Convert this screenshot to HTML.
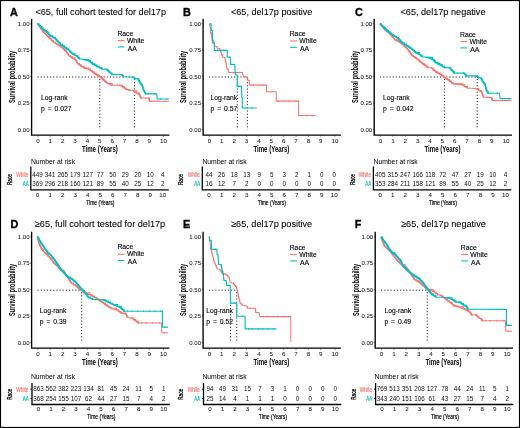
<!DOCTYPE html>
<html><head><meta charset="utf-8"><style>
html,body{margin:0;padding:0;background:#fff;}
svg{display:block;font-family:"Liberation Sans", sans-serif;will-change:transform;}
</style></head><body>
<svg width="520" height="428" viewBox="0 0 520 428">
<rect x="0" y="0" width="520" height="428" fill="#fff"/>
<g transform="translate(0.00,0.00)">
<text x="10.10" y="15.80" font-size="10.80" text-anchor="start" font-weight="bold" fill="#000" stroke="#000" stroke-width="0.35">A</text>
<text x="100.70" y="15.30" font-size="9.15" text-anchor="middle" font-weight="normal" fill="#000" stroke="#000" stroke-width="0.07">&lt;65, full cohort tested for del17p</text>
<text transform="translate(14.9,76.9) rotate(-90) scale(0.64,1)" font-size="8.8" font-weight="bold" text-anchor="middle">Survival probability</text>
<text x="29.50" y="131.75" font-size="6.00" text-anchor="end" font-weight="normal" fill="#1a1a1a" stroke="#1a1a1a" stroke-width="0.05">0.00</text>
<line x1="30.2" y1="129.60" x2="31.6" y2="129.60" stroke="#222" stroke-width="0.6"/>
<text x="29.50" y="105.30" font-size="6.00" text-anchor="end" font-weight="normal" fill="#1a1a1a" stroke="#1a1a1a" stroke-width="0.05">0.25</text>
<line x1="30.2" y1="103.15" x2="31.6" y2="103.15" stroke="#222" stroke-width="0.6"/>
<text x="29.50" y="78.85" font-size="6.00" text-anchor="end" font-weight="normal" fill="#1a1a1a" stroke="#1a1a1a" stroke-width="0.05">0.50</text>
<line x1="30.2" y1="76.70" x2="31.6" y2="76.70" stroke="#222" stroke-width="0.6"/>
<text x="29.50" y="52.40" font-size="6.00" text-anchor="end" font-weight="normal" fill="#1a1a1a" stroke="#1a1a1a" stroke-width="0.05">0.75</text>
<line x1="30.2" y1="50.25" x2="31.6" y2="50.25" stroke="#222" stroke-width="0.6"/>
<text x="29.50" y="25.95" font-size="6.00" text-anchor="end" font-weight="normal" fill="#1a1a1a" stroke="#1a1a1a" stroke-width="0.05">1.00</text>
<line x1="30.2" y1="23.80" x2="31.6" y2="23.80" stroke="#222" stroke-width="0.6"/>
<text x="37.90" y="142.60" font-size="6.20" text-anchor="middle" font-weight="normal" fill="#1a1a1a" stroke="#1a1a1a" stroke-width="0.05">0</text>
<line x1="37.90" y1="135.5" x2="37.90" y2="136.8" stroke="#222" stroke-width="0.6"/>
<text x="50.27" y="142.60" font-size="6.20" text-anchor="middle" font-weight="normal" fill="#1a1a1a" stroke="#1a1a1a" stroke-width="0.05">1</text>
<line x1="50.27" y1="135.5" x2="50.27" y2="136.8" stroke="#222" stroke-width="0.6"/>
<text x="62.64" y="142.60" font-size="6.20" text-anchor="middle" font-weight="normal" fill="#1a1a1a" stroke="#1a1a1a" stroke-width="0.05">2</text>
<line x1="62.64" y1="135.5" x2="62.64" y2="136.8" stroke="#222" stroke-width="0.6"/>
<text x="75.01" y="142.60" font-size="6.20" text-anchor="middle" font-weight="normal" fill="#1a1a1a" stroke="#1a1a1a" stroke-width="0.05">3</text>
<line x1="75.01" y1="135.5" x2="75.01" y2="136.8" stroke="#222" stroke-width="0.6"/>
<text x="87.38" y="142.60" font-size="6.20" text-anchor="middle" font-weight="normal" fill="#1a1a1a" stroke="#1a1a1a" stroke-width="0.05">4</text>
<line x1="87.38" y1="135.5" x2="87.38" y2="136.8" stroke="#222" stroke-width="0.6"/>
<text x="99.75" y="142.60" font-size="6.20" text-anchor="middle" font-weight="normal" fill="#1a1a1a" stroke="#1a1a1a" stroke-width="0.05">5</text>
<line x1="99.75" y1="135.5" x2="99.75" y2="136.8" stroke="#222" stroke-width="0.6"/>
<text x="112.12" y="142.60" font-size="6.20" text-anchor="middle" font-weight="normal" fill="#1a1a1a" stroke="#1a1a1a" stroke-width="0.05">6</text>
<line x1="112.12" y1="135.5" x2="112.12" y2="136.8" stroke="#222" stroke-width="0.6"/>
<text x="124.49" y="142.60" font-size="6.20" text-anchor="middle" font-weight="normal" fill="#1a1a1a" stroke="#1a1a1a" stroke-width="0.05">7</text>
<line x1="124.49" y1="135.5" x2="124.49" y2="136.8" stroke="#222" stroke-width="0.6"/>
<text x="136.86" y="142.60" font-size="6.20" text-anchor="middle" font-weight="normal" fill="#1a1a1a" stroke="#1a1a1a" stroke-width="0.05">8</text>
<line x1="136.86" y1="135.5" x2="136.86" y2="136.8" stroke="#222" stroke-width="0.6"/>
<text x="149.23" y="142.60" font-size="6.20" text-anchor="middle" font-weight="normal" fill="#1a1a1a" stroke="#1a1a1a" stroke-width="0.05">9</text>
<line x1="149.23" y1="135.5" x2="149.23" y2="136.8" stroke="#222" stroke-width="0.6"/>
<text x="163.50" y="142.60" font-size="6.20" text-anchor="middle" font-weight="normal" fill="#1a1a1a" stroke="#1a1a1a" stroke-width="0.05">10</text>
<line x1="163.50" y1="135.5" x2="163.50" y2="136.8" stroke="#222" stroke-width="0.6"/>
<text transform="translate(99.90,152.40) scale(0.690,1)" font-size="8.80" text-anchor="middle" font-weight="bold" fill="#000" >Time (Years)</text>
<line x1="37.50" y1="77.00" x2="134.40" y2="77.00" stroke="#111" stroke-width="0.95" stroke-dasharray="1.1,2.05"/>
<line x1="99.80" y1="79.00" x2="99.80" y2="129.60" stroke="#111" stroke-width="0.95" stroke-dasharray="1.1,2.05"/>
<line x1="134.40" y1="79.00" x2="134.40" y2="129.60" stroke="#111" stroke-width="0.95" stroke-dasharray="1.1,2.05"/>
<polyline points="37.70,24.00 38.63,24.00 38.63,25.35 39.57,25.35 39.57,26.70 40.50,26.70 40.50,28.05 41.43,28.05 41.43,29.40 42.37,29.40 42.37,30.75 43.30,30.75 43.30,32.10 44.47,32.10 44.47,33.27 45.65,33.27 45.65,34.45 46.83,34.45 46.83,35.62 48.00,35.62 48.00,36.80 49.00,36.80 49.00,37.80 50.00,37.80 50.00,38.80 51.75,38.80 51.75,40.40 53.50,40.40 53.50,42.00 55.27,42.00 55.27,43.17 57.03,43.17 57.03,44.33 58.80,44.33 58.80,45.50 60.85,45.50 60.85,46.95 62.90,46.95 62.90,48.40 64.07,48.40 64.07,49.57 65.23,49.57 65.23,50.73 66.40,50.73 66.40,51.90 67.17,51.90 67.17,53.07 67.93,53.07 67.93,54.23 68.70,54.23 68.70,55.40 70.45,55.40 70.45,56.60 72.20,56.60 72.20,57.80 75.00,57.80 75.00,59.50 75.83,59.50 75.83,60.80 76.67,60.80 76.67,62.10 77.50,62.10 77.50,63.40 79.35,63.40 79.35,64.80 81.20,64.80 81.20,66.20 84.00,66.20 84.00,68.00 88.70,68.00 88.70,69.00 90.55,69.00 90.55,70.40 92.40,70.40 92.40,71.80 94.30,71.80 94.30,73.20 96.20,73.20 96.20,74.60 98.05,74.60 98.05,75.60 99.90,75.60 99.90,76.60 101.17,76.60 101.17,77.77 102.43,77.77 102.43,78.93 103.70,78.93 103.70,80.10 104.97,80.10 104.97,81.20 106.23,81.20 106.23,82.30 107.50,82.30 107.50,83.40 112.10,83.40 112.10,85.20 119.60,85.20 122.40,85.20 122.40,86.60 124.30,86.60 124.30,88.00 126.20,88.00 126.20,89.40 129.90,89.40 129.90,90.40 133.60,90.80 136.40,90.80 136.40,92.70 139.30,92.70 139.30,94.60 139.83,94.60 139.83,95.73 140.37,95.73 140.37,96.87 140.90,96.87 140.90,98.00 148.80,98.00 149.13,98.00 149.13,99.10 149.47,99.10 149.47,100.20 149.80,100.20 149.80,101.30 168.90,101.30" fill="none" stroke="#F8766D" stroke-width="1.05" stroke-linejoin="miter"/>
<path d="M37.70,24.00L43.30,32.10M43.30,32.10L48.00,36.80M48.00,36.80L50.00,38.80M50.00,38.80L53.50,42.00M53.50,42.00L58.80,45.50M58.80,45.50L62.90,48.40M62.90,48.40L66.40,51.90M66.40,51.90L68.70,55.40M68.70,55.40L72.20,57.80M72.20,57.80L75.00,59.50M75.00,59.50L77.50,63.40M77.50,63.40L81.20,66.20M81.20,66.20L84.00,68.00M84.00,68.00L88.70,69.00M88.70,69.00L92.40,71.80M92.40,71.80L96.20,74.60M96.20,74.60L99.90,76.60M99.90,76.60L103.70,80.10M103.70,80.10L107.50,83.40M107.50,83.40L112.10,85.20M119.60,85.20L122.40,86.60M122.40,86.60L126.20,89.40M126.20,89.40L129.90,90.40M133.60,90.80L136.40,92.70M136.40,92.70L139.30,94.60M139.30,94.60L140.90,98.00M148.80,98.00L149.80,101.30" stroke="#F8766D" stroke-width="1.45" fill="none" stroke-linecap="round" stroke-linejoin="round"/>
<path d="M117.24,84.25v1.9M145.91,97.05v1.9M152.00,100.35v1.9M158.13,100.35v1.9M165.44,100.35v1.9" stroke="#F8766D" stroke-width="0.7" fill="none"/>
<polyline points="37.70,24.00 39.10,24.00 39.10,25.32 40.50,25.32 40.50,26.65 41.90,26.65 41.90,27.98 43.30,27.98 43.30,29.30 44.87,29.30 44.87,30.57 46.43,30.57 46.43,31.83 48.00,31.83 48.00,33.10 49.00,33.10 49.00,34.50 50.00,34.50 50.00,35.90 52.65,35.90 52.65,37.20 55.30,37.20 55.30,38.50 56.15,38.50 56.15,39.65 57.00,39.65 57.00,40.80 58.17,40.80 58.17,41.97 59.33,41.97 59.33,43.13 60.50,43.13 60.50,44.30 62.55,44.30 62.55,45.80 64.60,45.80 64.60,47.30 66.65,47.30 66.65,48.75 68.70,48.75 68.70,50.20 69.87,50.20 69.87,51.37 71.03,51.37 71.03,52.53 72.20,52.53 72.20,53.70 75.00,53.70 75.00,55.40 76.50,55.90 77.90,55.90 77.90,57.30 79.30,57.30 79.30,58.70 84.00,59.60 88.70,59.60 88.70,60.60 90.55,60.60 90.55,62.20 92.40,62.20 92.40,63.80 94.75,63.80 94.75,65.00 97.10,65.00 97.10,66.20 99.50,66.20 99.50,67.55 101.90,67.55 101.90,68.90 106.50,69.30 107.90,69.30 107.90,70.70 109.30,70.70 109.30,72.10 110.70,72.10 110.70,73.30 112.10,73.30 112.10,74.50 121.50,74.50 122.45,74.50 122.45,75.65 123.40,75.65 123.40,76.80 133.60,77.20 134.80,77.20 134.80,78.90 138.10,78.90 138.80,78.90 138.80,80.50 139.50,80.50 139.50,82.10 140.43,82.10 140.43,83.37 141.37,83.37 141.37,84.63 142.30,84.63 142.30,85.90 142.65,85.90 142.65,87.08 143.00,87.08 143.00,88.25 143.35,88.25 143.35,89.42 143.70,89.42 143.70,90.60 144.65,90.60 144.65,92.20 145.60,92.20 145.60,93.80 156.80,93.80 157.20,99.00 168.90,99.00" fill="none" stroke="#00BFC4" stroke-width="1.15" stroke-linejoin="miter"/>
<path d="M37.70,24.00L43.30,29.30M43.30,29.30L48.00,33.10M48.00,33.10L50.00,35.90M50.00,35.90L55.30,38.50M55.30,38.50L57.00,40.80M57.00,40.80L60.50,44.30M60.50,44.30L64.60,47.30M64.60,47.30L68.70,50.20M68.70,50.20L72.20,53.70M72.20,53.70L75.00,55.40M76.50,55.90L79.30,58.70M84.00,59.60L88.70,60.60M88.70,60.60L92.40,63.80M92.40,63.80L97.10,66.20M97.10,66.20L101.90,68.90M106.50,69.30L109.30,72.10M109.30,72.10L112.10,74.50M121.50,74.50L123.40,76.80M133.60,77.20L134.80,78.90M138.10,78.90L139.50,82.10M139.50,82.10L142.30,85.90M142.30,85.90L143.70,90.60M143.70,90.60L145.60,93.80" stroke="#00BFC4" stroke-width="1.55" fill="none" stroke-linecap="round" stroke-linejoin="round"/>
<path d="M116.79,73.55v1.9M148.61,92.85v1.9M155.04,92.85v1.9M160.35,98.05v1.9M166.79,98.05v1.9" stroke="#00BFC4" stroke-width="0.7" fill="none"/>
<path d="M31.6,18.8 V135.1 H169.4" fill="none" stroke="#000" stroke-width="1.35"/>
<g transform="translate(0.00,0.00)">
<text x="117.40" y="35.60" font-size="6.80" text-anchor="start" font-weight="normal" fill="#000" stroke="#000" stroke-width="0.12">Race</text>
<line x1="117.9" y1="40.6" x2="124.6" y2="40.6" stroke="#F8766D" stroke-width="1.1"/>
<line x1="117.9" y1="46.9" x2="124.6" y2="46.9" stroke="#00BFC4" stroke-width="1.1"/>
<text x="126.90" y="42.70" font-size="6.85" text-anchor="start" font-weight="normal" fill="#000" stroke="#000" stroke-width="0.12">White</text>
<text x="127.70" y="50.90" font-size="6.85" text-anchor="start" font-weight="normal" fill="#000" stroke="#000" stroke-width="0.12">AA</text>
</g>
<text x="41.00" y="100.00" font-size="6.75" text-anchor="start" font-weight="normal" fill="#000" stroke="#000" stroke-width="0.1">Log-rank</text>
<text x="41.00" y="110.60" font-size="6.80" text-anchor="start" font-weight="normal" fill="#000" stroke="#000" stroke-width="0.1" word-spacing="1.0">p = 0.027</text>
<text x="30.90" y="164.30" font-size="6.80" text-anchor="start" font-weight="normal" fill="#000" >Number at risk</text>
<path d="M30.80,166.60 V189.90 H168.80" fill="none" stroke="#000" stroke-width="1.3"/>
<text transform="translate(28.50,177.40) scale(0.690,1)" font-size="7.00" text-anchor="end" font-weight="normal" fill="#F8766D" stroke="#F8766D" stroke-width="0.2">White</text>
<text transform="translate(28.70,185.90) scale(0.640,1)" font-size="7.00" text-anchor="end" font-weight="normal" fill="#00BFC4" stroke="#00BFC4" stroke-width="0.2">AA</text>
<text transform="translate(11.9,179.60) rotate(-90) scale(0.62,1)" font-size="7.5" stroke="#000" stroke-width="0.3" text-anchor="middle">Race</text>
<text x="37.60" y="176.85" font-size="6.30" text-anchor="middle" font-weight="normal" fill="#111" >449</text>
<text x="37.60" y="185.95" font-size="6.30" text-anchor="middle" font-weight="normal" fill="#111" >369</text>
<text x="37.60" y="197.00" font-size="6.20" text-anchor="middle" font-weight="normal" fill="#1a1a1a" stroke="#1a1a1a" stroke-width="0.05">0</text>
<text x="50.12" y="176.85" font-size="6.30" text-anchor="middle" font-weight="normal" fill="#111" >341</text>
<text x="50.12" y="185.95" font-size="6.30" text-anchor="middle" font-weight="normal" fill="#111" >296</text>
<text x="50.12" y="197.00" font-size="6.20" text-anchor="middle" font-weight="normal" fill="#1a1a1a" stroke="#1a1a1a" stroke-width="0.05">1</text>
<text x="62.64" y="176.85" font-size="6.30" text-anchor="middle" font-weight="normal" fill="#111" >265</text>
<text x="62.64" y="185.95" font-size="6.30" text-anchor="middle" font-weight="normal" fill="#111" >218</text>
<text x="62.64" y="197.00" font-size="6.20" text-anchor="middle" font-weight="normal" fill="#1a1a1a" stroke="#1a1a1a" stroke-width="0.05">2</text>
<text x="75.16" y="176.85" font-size="6.30" text-anchor="middle" font-weight="normal" fill="#111" >179</text>
<text x="75.16" y="185.95" font-size="6.30" text-anchor="middle" font-weight="normal" fill="#111" >160</text>
<text x="75.16" y="197.00" font-size="6.20" text-anchor="middle" font-weight="normal" fill="#1a1a1a" stroke="#1a1a1a" stroke-width="0.05">3</text>
<text x="87.68" y="176.85" font-size="6.30" text-anchor="middle" font-weight="normal" fill="#111" >127</text>
<text x="87.68" y="185.95" font-size="6.30" text-anchor="middle" font-weight="normal" fill="#111" >121</text>
<text x="87.68" y="197.00" font-size="6.20" text-anchor="middle" font-weight="normal" fill="#1a1a1a" stroke="#1a1a1a" stroke-width="0.05">4</text>
<text x="100.20" y="176.85" font-size="6.30" text-anchor="middle" font-weight="normal" fill="#111" >77</text>
<text x="100.20" y="185.95" font-size="6.30" text-anchor="middle" font-weight="normal" fill="#111" >89</text>
<text x="100.20" y="197.00" font-size="6.20" text-anchor="middle" font-weight="normal" fill="#1a1a1a" stroke="#1a1a1a" stroke-width="0.05">5</text>
<text x="112.72" y="176.85" font-size="6.30" text-anchor="middle" font-weight="normal" fill="#111" >50</text>
<text x="112.72" y="185.95" font-size="6.30" text-anchor="middle" font-weight="normal" fill="#111" >55</text>
<text x="112.72" y="197.00" font-size="6.20" text-anchor="middle" font-weight="normal" fill="#1a1a1a" stroke="#1a1a1a" stroke-width="0.05">6</text>
<text x="125.24" y="176.85" font-size="6.30" text-anchor="middle" font-weight="normal" fill="#111" >29</text>
<text x="125.24" y="185.95" font-size="6.30" text-anchor="middle" font-weight="normal" fill="#111" >40</text>
<text x="125.24" y="197.00" font-size="6.20" text-anchor="middle" font-weight="normal" fill="#1a1a1a" stroke="#1a1a1a" stroke-width="0.05">7</text>
<text x="137.76" y="176.85" font-size="6.30" text-anchor="middle" font-weight="normal" fill="#111" >20</text>
<text x="137.76" y="185.95" font-size="6.30" text-anchor="middle" font-weight="normal" fill="#111" >25</text>
<text x="137.76" y="197.00" font-size="6.20" text-anchor="middle" font-weight="normal" fill="#1a1a1a" stroke="#1a1a1a" stroke-width="0.05">8</text>
<text x="150.28" y="176.85" font-size="6.30" text-anchor="middle" font-weight="normal" fill="#111" >10</text>
<text x="150.28" y="185.95" font-size="6.30" text-anchor="middle" font-weight="normal" fill="#111" >12</text>
<text x="150.28" y="197.00" font-size="6.20" text-anchor="middle" font-weight="normal" fill="#1a1a1a" stroke="#1a1a1a" stroke-width="0.05">9</text>
<text x="162.80" y="176.85" font-size="6.30" text-anchor="middle" font-weight="normal" fill="#111" >4</text>
<text x="162.80" y="185.95" font-size="6.30" text-anchor="middle" font-weight="normal" fill="#111" >2</text>
<text x="162.80" y="197.00" font-size="6.20" text-anchor="middle" font-weight="normal" fill="#1a1a1a" stroke="#1a1a1a" stroke-width="0.05">10</text>
<text transform="translate(100.30,204.60) scale(0.680,1)" font-size="7.30" text-anchor="middle" font-weight="normal" fill="#000" stroke="#000" stroke-width="0.2">Time (Years)</text>
</g>
<g transform="translate(171.50,0.00)">
<text x="11.50" y="15.80" font-size="10.80" text-anchor="start" font-weight="bold" fill="#000" stroke="#000" stroke-width="0.35">B</text>
<text x="100.15" y="15.30" font-size="9.15" text-anchor="middle" font-weight="normal" fill="#000" stroke="#000" stroke-width="0.07">&lt;65, del17p positive</text>
<text transform="translate(14.9,76.9) rotate(-90) scale(0.64,1)" font-size="8.8" font-weight="bold" text-anchor="middle">Survival probability</text>
<text x="29.50" y="131.75" font-size="6.00" text-anchor="end" font-weight="normal" fill="#1a1a1a" stroke="#1a1a1a" stroke-width="0.05">0.00</text>
<line x1="30.2" y1="129.60" x2="31.6" y2="129.60" stroke="#222" stroke-width="0.6"/>
<text x="29.50" y="105.30" font-size="6.00" text-anchor="end" font-weight="normal" fill="#1a1a1a" stroke="#1a1a1a" stroke-width="0.05">0.25</text>
<line x1="30.2" y1="103.15" x2="31.6" y2="103.15" stroke="#222" stroke-width="0.6"/>
<text x="29.50" y="78.85" font-size="6.00" text-anchor="end" font-weight="normal" fill="#1a1a1a" stroke="#1a1a1a" stroke-width="0.05">0.50</text>
<line x1="30.2" y1="76.70" x2="31.6" y2="76.70" stroke="#222" stroke-width="0.6"/>
<text x="29.50" y="52.40" font-size="6.00" text-anchor="end" font-weight="normal" fill="#1a1a1a" stroke="#1a1a1a" stroke-width="0.05">0.75</text>
<line x1="30.2" y1="50.25" x2="31.6" y2="50.25" stroke="#222" stroke-width="0.6"/>
<text x="29.50" y="25.95" font-size="6.00" text-anchor="end" font-weight="normal" fill="#1a1a1a" stroke="#1a1a1a" stroke-width="0.05">1.00</text>
<line x1="30.2" y1="23.80" x2="31.6" y2="23.80" stroke="#222" stroke-width="0.6"/>
<text x="37.90" y="142.60" font-size="6.20" text-anchor="middle" font-weight="normal" fill="#1a1a1a" stroke="#1a1a1a" stroke-width="0.05">0</text>
<line x1="37.90" y1="135.5" x2="37.90" y2="136.8" stroke="#222" stroke-width="0.6"/>
<text x="50.27" y="142.60" font-size="6.20" text-anchor="middle" font-weight="normal" fill="#1a1a1a" stroke="#1a1a1a" stroke-width="0.05">1</text>
<line x1="50.27" y1="135.5" x2="50.27" y2="136.8" stroke="#222" stroke-width="0.6"/>
<text x="62.64" y="142.60" font-size="6.20" text-anchor="middle" font-weight="normal" fill="#1a1a1a" stroke="#1a1a1a" stroke-width="0.05">2</text>
<line x1="62.64" y1="135.5" x2="62.64" y2="136.8" stroke="#222" stroke-width="0.6"/>
<text x="75.01" y="142.60" font-size="6.20" text-anchor="middle" font-weight="normal" fill="#1a1a1a" stroke="#1a1a1a" stroke-width="0.05">3</text>
<line x1="75.01" y1="135.5" x2="75.01" y2="136.8" stroke="#222" stroke-width="0.6"/>
<text x="87.38" y="142.60" font-size="6.20" text-anchor="middle" font-weight="normal" fill="#1a1a1a" stroke="#1a1a1a" stroke-width="0.05">4</text>
<line x1="87.38" y1="135.5" x2="87.38" y2="136.8" stroke="#222" stroke-width="0.6"/>
<text x="99.75" y="142.60" font-size="6.20" text-anchor="middle" font-weight="normal" fill="#1a1a1a" stroke="#1a1a1a" stroke-width="0.05">5</text>
<line x1="99.75" y1="135.5" x2="99.75" y2="136.8" stroke="#222" stroke-width="0.6"/>
<text x="112.12" y="142.60" font-size="6.20" text-anchor="middle" font-weight="normal" fill="#1a1a1a" stroke="#1a1a1a" stroke-width="0.05">6</text>
<line x1="112.12" y1="135.5" x2="112.12" y2="136.8" stroke="#222" stroke-width="0.6"/>
<text x="124.49" y="142.60" font-size="6.20" text-anchor="middle" font-weight="normal" fill="#1a1a1a" stroke="#1a1a1a" stroke-width="0.05">7</text>
<line x1="124.49" y1="135.5" x2="124.49" y2="136.8" stroke="#222" stroke-width="0.6"/>
<text x="136.86" y="142.60" font-size="6.20" text-anchor="middle" font-weight="normal" fill="#1a1a1a" stroke="#1a1a1a" stroke-width="0.05">8</text>
<line x1="136.86" y1="135.5" x2="136.86" y2="136.8" stroke="#222" stroke-width="0.6"/>
<text x="149.23" y="142.60" font-size="6.20" text-anchor="middle" font-weight="normal" fill="#1a1a1a" stroke="#1a1a1a" stroke-width="0.05">9</text>
<line x1="149.23" y1="135.5" x2="149.23" y2="136.8" stroke="#222" stroke-width="0.6"/>
<text x="163.50" y="142.60" font-size="6.20" text-anchor="middle" font-weight="normal" fill="#1a1a1a" stroke="#1a1a1a" stroke-width="0.05">10</text>
<line x1="163.50" y1="135.5" x2="163.50" y2="136.8" stroke="#222" stroke-width="0.6"/>
<text transform="translate(99.90,152.40) scale(0.690,1)" font-size="8.80" text-anchor="middle" font-weight="bold" fill="#000" >Time (Years)</text>
<line x1="37.50" y1="77.00" x2="75.90" y2="77.00" stroke="#111" stroke-width="0.95" stroke-dasharray="1.1,2.05"/>
<line x1="65.80" y1="79.00" x2="65.80" y2="129.60" stroke="#111" stroke-width="0.95" stroke-dasharray="1.1,2.05"/>
<line x1="75.90" y1="79.00" x2="75.90" y2="129.60" stroke="#111" stroke-width="0.95" stroke-dasharray="1.1,2.05"/>
<polyline points="37.70,23.90 38.20,25.10 38.60,26.50 39.10,33.10 40.00,33.10 40.00,35.00 40.50,40.10 41.90,40.10 41.90,41.50 42.25,41.50 42.25,42.67 42.60,42.67 42.60,43.85 42.95,43.85 42.95,45.03 43.30,45.03 43.30,46.20 44.70,46.60 45.60,46.60 45.60,48.00 47.50,48.50 48.20,48.50 48.20,49.90 48.90,49.90 48.90,51.30 49.33,51.30 49.33,52.57 49.77,52.57 49.77,53.83 50.20,53.83 50.20,55.10 51.20,55.10 51.20,57.00 53.00,57.50 53.33,57.50 53.33,58.73 53.67,58.73 53.67,59.97 54.00,59.97 54.00,61.20 54.30,61.20 54.30,62.60 54.60,62.60 54.60,64.00 54.90,64.00 54.90,65.40 55.40,69.20 56.80,69.20 56.80,71.00 57.20,72.40 70.80,72.40 71.70,76.20 75.50,77.10 75.80,77.10 75.80,78.20 76.10,78.20 76.10,79.30 76.40,79.30 76.40,80.40 77.80,80.40 77.80,82.30 78.30,85.10 95.00,85.10 95.00,91.80 104.70,91.80 104.70,101.10 127.10,101.10 127.10,115.50 144.00,115.50" fill="none" stroke="#F8766D" stroke-width="1.05" stroke-linejoin="miter"/>
<path d="M61.43,71.45v1.9M68.18,71.45v1.9M81.91,84.15v1.9M87.63,84.15v1.9M91.17,84.15v1.9M100.39,90.85v1.9M106.74,100.15v1.9M112.36,100.15v1.9M117.83,100.15v1.9M124.60,100.15v1.9M130.77,114.55v1.9M135.05,114.55v1.9M141.17,114.55v1.9" stroke="#F8766D" stroke-width="0.7" fill="none"/>
<polyline points="37.70,23.90 39.60,23.90 39.60,30.50 41.00,30.50 41.00,43.00 42.80,43.00 42.80,44.50 42.80,50.40 55.80,50.40 55.80,57.10 58.80,57.10 59.10,64.50 63.30,64.50 63.80,75.00 65.70,75.00 65.70,86.30 70.00,86.30 70.30,97.50 70.80,97.80 70.80,108.00 85.30,108.00" fill="none" stroke="#00BFC4" stroke-width="1.15" stroke-linejoin="miter"/>
<path d="M46.24,49.45v1.9M52.40,49.45v1.9M60.43,63.55v1.9M67.15,85.35v1.9M73.69,107.05v1.9M80.55,107.05v1.9" stroke="#00BFC4" stroke-width="0.7" fill="none"/>
<path d="M31.6,18.8 V135.1 H169.4" fill="none" stroke="#000" stroke-width="1.35"/>
<g transform="translate(0.80,0.40)">
<text x="117.40" y="35.60" font-size="6.80" text-anchor="start" font-weight="normal" fill="#000" stroke="#000" stroke-width="0.12">Race</text>
<line x1="117.9" y1="40.6" x2="124.6" y2="40.6" stroke="#F8766D" stroke-width="1.1"/>
<line x1="117.9" y1="46.9" x2="124.6" y2="46.9" stroke="#00BFC4" stroke-width="1.1"/>
<text x="126.90" y="42.70" font-size="6.85" text-anchor="start" font-weight="normal" fill="#000" stroke="#000" stroke-width="0.12">White</text>
<text x="127.70" y="50.90" font-size="6.85" text-anchor="start" font-weight="normal" fill="#000" stroke="#000" stroke-width="0.12">AA</text>
</g>
<text x="39.10" y="100.00" font-size="6.75" text-anchor="start" font-weight="normal" fill="#000" stroke="#000" stroke-width="0.1">Log-rank</text>
<text x="39.10" y="110.60" font-size="6.80" text-anchor="start" font-weight="normal" fill="#000" stroke="#000" stroke-width="0.1" word-spacing="1.0">p = 0.57</text>
<text x="30.90" y="164.30" font-size="6.80" text-anchor="start" font-weight="normal" fill="#000" >Number at risk</text>
<path d="M30.80,166.60 V189.90 H168.80" fill="none" stroke="#000" stroke-width="1.3"/>
<text transform="translate(28.50,177.40) scale(0.690,1)" font-size="7.00" text-anchor="end" font-weight="normal" fill="#F8766D" stroke="#F8766D" stroke-width="0.2">White</text>
<text transform="translate(28.70,185.90) scale(0.640,1)" font-size="7.00" text-anchor="end" font-weight="normal" fill="#00BFC4" stroke="#00BFC4" stroke-width="0.2">AA</text>
<text transform="translate(11.9,179.60) rotate(-90) scale(0.62,1)" font-size="7.5" stroke="#000" stroke-width="0.3" text-anchor="middle">Race</text>
<text x="37.60" y="176.85" font-size="6.30" text-anchor="middle" font-weight="normal" fill="#111" >44</text>
<text x="37.60" y="185.95" font-size="6.30" text-anchor="middle" font-weight="normal" fill="#111" >16</text>
<text x="37.60" y="197.00" font-size="6.20" text-anchor="middle" font-weight="normal" fill="#1a1a1a" stroke="#1a1a1a" stroke-width="0.05">0</text>
<text x="50.12" y="176.85" font-size="6.30" text-anchor="middle" font-weight="normal" fill="#111" >26</text>
<text x="50.12" y="185.95" font-size="6.30" text-anchor="middle" font-weight="normal" fill="#111" >12</text>
<text x="50.12" y="197.00" font-size="6.20" text-anchor="middle" font-weight="normal" fill="#1a1a1a" stroke="#1a1a1a" stroke-width="0.05">1</text>
<text x="62.64" y="176.85" font-size="6.30" text-anchor="middle" font-weight="normal" fill="#111" >18</text>
<text x="62.64" y="185.95" font-size="6.30" text-anchor="middle" font-weight="normal" fill="#111" >7</text>
<text x="62.64" y="197.00" font-size="6.20" text-anchor="middle" font-weight="normal" fill="#1a1a1a" stroke="#1a1a1a" stroke-width="0.05">2</text>
<text x="75.16" y="176.85" font-size="6.30" text-anchor="middle" font-weight="normal" fill="#111" >13</text>
<text x="75.16" y="185.95" font-size="6.30" text-anchor="middle" font-weight="normal" fill="#111" >2</text>
<text x="75.16" y="197.00" font-size="6.20" text-anchor="middle" font-weight="normal" fill="#1a1a1a" stroke="#1a1a1a" stroke-width="0.05">3</text>
<text x="87.68" y="176.85" font-size="6.30" text-anchor="middle" font-weight="normal" fill="#111" >9</text>
<text x="87.68" y="185.95" font-size="6.30" text-anchor="middle" font-weight="normal" fill="#111" >0</text>
<text x="87.68" y="197.00" font-size="6.20" text-anchor="middle" font-weight="normal" fill="#1a1a1a" stroke="#1a1a1a" stroke-width="0.05">4</text>
<text x="100.20" y="176.85" font-size="6.30" text-anchor="middle" font-weight="normal" fill="#111" >5</text>
<text x="100.20" y="185.95" font-size="6.30" text-anchor="middle" font-weight="normal" fill="#111" >0</text>
<text x="100.20" y="197.00" font-size="6.20" text-anchor="middle" font-weight="normal" fill="#1a1a1a" stroke="#1a1a1a" stroke-width="0.05">5</text>
<text x="112.72" y="176.85" font-size="6.30" text-anchor="middle" font-weight="normal" fill="#111" >3</text>
<text x="112.72" y="185.95" font-size="6.30" text-anchor="middle" font-weight="normal" fill="#111" >0</text>
<text x="112.72" y="197.00" font-size="6.20" text-anchor="middle" font-weight="normal" fill="#1a1a1a" stroke="#1a1a1a" stroke-width="0.05">6</text>
<text x="125.24" y="176.85" font-size="6.30" text-anchor="middle" font-weight="normal" fill="#111" >2</text>
<text x="125.24" y="185.95" font-size="6.30" text-anchor="middle" font-weight="normal" fill="#111" >0</text>
<text x="125.24" y="197.00" font-size="6.20" text-anchor="middle" font-weight="normal" fill="#1a1a1a" stroke="#1a1a1a" stroke-width="0.05">7</text>
<text x="137.76" y="176.85" font-size="6.30" text-anchor="middle" font-weight="normal" fill="#111" >1</text>
<text x="137.76" y="185.95" font-size="6.30" text-anchor="middle" font-weight="normal" fill="#111" >0</text>
<text x="137.76" y="197.00" font-size="6.20" text-anchor="middle" font-weight="normal" fill="#1a1a1a" stroke="#1a1a1a" stroke-width="0.05">8</text>
<text x="150.28" y="176.85" font-size="6.30" text-anchor="middle" font-weight="normal" fill="#111" >0</text>
<text x="150.28" y="185.95" font-size="6.30" text-anchor="middle" font-weight="normal" fill="#111" >0</text>
<text x="150.28" y="197.00" font-size="6.20" text-anchor="middle" font-weight="normal" fill="#1a1a1a" stroke="#1a1a1a" stroke-width="0.05">9</text>
<text x="162.80" y="176.85" font-size="6.30" text-anchor="middle" font-weight="normal" fill="#111" >0</text>
<text x="162.80" y="185.95" font-size="6.30" text-anchor="middle" font-weight="normal" fill="#111" >0</text>
<text x="162.80" y="197.00" font-size="6.20" text-anchor="middle" font-weight="normal" fill="#1a1a1a" stroke="#1a1a1a" stroke-width="0.05">10</text>
<text transform="translate(100.30,204.60) scale(0.680,1)" font-size="7.30" text-anchor="middle" font-weight="normal" fill="#000" stroke="#000" stroke-width="0.2">Time (Years)</text>
</g>
<g transform="translate(342.60,0.00)">
<text x="12.50" y="15.80" font-size="10.80" text-anchor="start" font-weight="bold" fill="#000" stroke="#000" stroke-width="0.35">C</text>
<text x="100.40" y="15.30" font-size="9.15" text-anchor="middle" font-weight="normal" fill="#000" stroke="#000" stroke-width="0.07">&lt;65, del17p negative</text>
<text transform="translate(14.9,76.9) rotate(-90) scale(0.64,1)" font-size="8.8" font-weight="bold" text-anchor="middle">Survival probability</text>
<text x="29.50" y="131.75" font-size="6.00" text-anchor="end" font-weight="normal" fill="#1a1a1a" stroke="#1a1a1a" stroke-width="0.05">0.00</text>
<line x1="30.2" y1="129.60" x2="31.6" y2="129.60" stroke="#222" stroke-width="0.6"/>
<text x="29.50" y="105.30" font-size="6.00" text-anchor="end" font-weight="normal" fill="#1a1a1a" stroke="#1a1a1a" stroke-width="0.05">0.25</text>
<line x1="30.2" y1="103.15" x2="31.6" y2="103.15" stroke="#222" stroke-width="0.6"/>
<text x="29.50" y="78.85" font-size="6.00" text-anchor="end" font-weight="normal" fill="#1a1a1a" stroke="#1a1a1a" stroke-width="0.05">0.50</text>
<line x1="30.2" y1="76.70" x2="31.6" y2="76.70" stroke="#222" stroke-width="0.6"/>
<text x="29.50" y="52.40" font-size="6.00" text-anchor="end" font-weight="normal" fill="#1a1a1a" stroke="#1a1a1a" stroke-width="0.05">0.75</text>
<line x1="30.2" y1="50.25" x2="31.6" y2="50.25" stroke="#222" stroke-width="0.6"/>
<text x="29.50" y="25.95" font-size="6.00" text-anchor="end" font-weight="normal" fill="#1a1a1a" stroke="#1a1a1a" stroke-width="0.05">1.00</text>
<line x1="30.2" y1="23.80" x2="31.6" y2="23.80" stroke="#222" stroke-width="0.6"/>
<text x="37.90" y="142.60" font-size="6.20" text-anchor="middle" font-weight="normal" fill="#1a1a1a" stroke="#1a1a1a" stroke-width="0.05">0</text>
<line x1="37.90" y1="135.5" x2="37.90" y2="136.8" stroke="#222" stroke-width="0.6"/>
<text x="50.27" y="142.60" font-size="6.20" text-anchor="middle" font-weight="normal" fill="#1a1a1a" stroke="#1a1a1a" stroke-width="0.05">1</text>
<line x1="50.27" y1="135.5" x2="50.27" y2="136.8" stroke="#222" stroke-width="0.6"/>
<text x="62.64" y="142.60" font-size="6.20" text-anchor="middle" font-weight="normal" fill="#1a1a1a" stroke="#1a1a1a" stroke-width="0.05">2</text>
<line x1="62.64" y1="135.5" x2="62.64" y2="136.8" stroke="#222" stroke-width="0.6"/>
<text x="75.01" y="142.60" font-size="6.20" text-anchor="middle" font-weight="normal" fill="#1a1a1a" stroke="#1a1a1a" stroke-width="0.05">3</text>
<line x1="75.01" y1="135.5" x2="75.01" y2="136.8" stroke="#222" stroke-width="0.6"/>
<text x="87.38" y="142.60" font-size="6.20" text-anchor="middle" font-weight="normal" fill="#1a1a1a" stroke="#1a1a1a" stroke-width="0.05">4</text>
<line x1="87.38" y1="135.5" x2="87.38" y2="136.8" stroke="#222" stroke-width="0.6"/>
<text x="99.75" y="142.60" font-size="6.20" text-anchor="middle" font-weight="normal" fill="#1a1a1a" stroke="#1a1a1a" stroke-width="0.05">5</text>
<line x1="99.75" y1="135.5" x2="99.75" y2="136.8" stroke="#222" stroke-width="0.6"/>
<text x="112.12" y="142.60" font-size="6.20" text-anchor="middle" font-weight="normal" fill="#1a1a1a" stroke="#1a1a1a" stroke-width="0.05">6</text>
<line x1="112.12" y1="135.5" x2="112.12" y2="136.8" stroke="#222" stroke-width="0.6"/>
<text x="124.49" y="142.60" font-size="6.20" text-anchor="middle" font-weight="normal" fill="#1a1a1a" stroke="#1a1a1a" stroke-width="0.05">7</text>
<line x1="124.49" y1="135.5" x2="124.49" y2="136.8" stroke="#222" stroke-width="0.6"/>
<text x="136.86" y="142.60" font-size="6.20" text-anchor="middle" font-weight="normal" fill="#1a1a1a" stroke="#1a1a1a" stroke-width="0.05">8</text>
<line x1="136.86" y1="135.5" x2="136.86" y2="136.8" stroke="#222" stroke-width="0.6"/>
<text x="149.23" y="142.60" font-size="6.20" text-anchor="middle" font-weight="normal" fill="#1a1a1a" stroke="#1a1a1a" stroke-width="0.05">9</text>
<line x1="149.23" y1="135.5" x2="149.23" y2="136.8" stroke="#222" stroke-width="0.6"/>
<text x="163.50" y="142.60" font-size="6.20" text-anchor="middle" font-weight="normal" fill="#1a1a1a" stroke="#1a1a1a" stroke-width="0.05">10</text>
<line x1="163.50" y1="135.5" x2="163.50" y2="136.8" stroke="#222" stroke-width="0.6"/>
<text transform="translate(99.90,152.40) scale(0.690,1)" font-size="8.80" text-anchor="middle" font-weight="bold" fill="#000" >Time (Years)</text>
<line x1="37.50" y1="77.00" x2="134.60" y2="77.00" stroke="#111" stroke-width="0.95" stroke-dasharray="1.1,2.05"/>
<line x1="101.80" y1="79.00" x2="101.80" y2="129.60" stroke="#111" stroke-width="0.95" stroke-dasharray="1.1,2.05"/>
<line x1="134.60" y1="79.00" x2="134.60" y2="129.60" stroke="#111" stroke-width="0.95" stroke-dasharray="1.1,2.05"/>
<polyline points="37.60,24.00 38.62,24.00 38.62,25.26 39.64,25.26 39.64,26.52 40.66,26.52 40.66,27.78 41.68,27.78 41.68,29.04 42.70,29.04 42.70,30.30 44.27,30.30 44.27,31.53 45.83,31.53 45.83,32.77 47.40,32.77 47.40,34.00 48.57,34.00 48.57,35.40 49.75,35.40 49.75,36.80 50.92,36.80 50.92,38.20 52.10,38.20 52.10,39.60 54.45,39.60 54.45,40.80 56.80,40.80 56.80,42.00 58.33,42.00 58.33,43.23 59.87,43.23 59.87,44.47 61.40,44.47 61.40,45.70 62.67,45.70 62.67,46.93 63.93,46.93 63.93,48.17 65.20,48.17 65.20,49.40 66.04,49.40 66.04,50.60 66.88,50.60 66.88,51.80 67.72,51.80 67.72,53.00 68.56,53.00 68.56,54.20 69.40,54.20 69.40,55.40 70.97,55.40 70.97,56.50 72.53,56.50 72.53,57.60 74.10,57.60 74.10,58.70 75.33,58.70 75.33,59.80 76.57,59.80 76.57,60.90 77.80,60.90 77.80,62.00 79.65,62.00 79.65,63.40 81.50,63.40 81.50,64.80 83.40,64.80 83.40,66.20 85.30,66.20 85.30,67.60 89.00,68.00 90.27,68.00 90.27,69.27 91.53,69.27 91.53,70.53 92.80,70.53 92.80,71.80 95.10,71.80 95.10,72.95 97.40,72.95 97.40,74.10 99.40,74.10 99.40,75.70 101.40,75.70 101.40,77.30 103.25,77.30 103.25,78.45 105.10,78.45 105.10,79.60 106.97,79.60 106.97,81.00 108.83,81.00 108.83,82.40 110.70,82.40 110.70,83.80 120.10,83.80 120.10,84.80 122.45,84.80 122.45,86.40 124.80,86.40 124.80,88.00 133.20,88.50 136.00,88.50 136.00,90.20 139.00,90.20 139.00,92.00 139.47,92.00 139.47,93.28 139.95,93.28 139.95,94.55 140.42,94.55 140.42,95.82 140.90,95.82 140.90,97.10 148.80,97.60 149.30,97.60 149.30,99.00 149.80,99.00 149.80,100.40 168.90,100.40" fill="none" stroke="#F8766D" stroke-width="1.05" stroke-linejoin="miter"/>
<path d="M37.60,24.00L42.70,30.30M42.70,30.30L47.40,34.00M47.40,34.00L52.10,39.60M52.10,39.60L56.80,42.00M56.80,42.00L61.40,45.70M61.40,45.70L65.20,49.40M65.20,49.40L69.40,55.40M69.40,55.40L74.10,58.70M74.10,58.70L77.80,62.00M77.80,62.00L81.50,64.80M81.50,64.80L85.30,67.60M89.00,68.00L92.80,71.80M92.80,71.80L97.40,74.10M97.40,74.10L101.40,77.30M101.40,77.30L105.10,79.60M105.10,79.60L110.70,83.80M110.70,83.80L120.10,84.80M120.10,84.80L124.80,88.00M133.20,88.50L136.00,90.20M136.00,90.20L139.00,92.00M139.00,92.00L140.90,97.10M148.80,97.60L149.80,100.40" stroke="#F8766D" stroke-width="1.45" fill="none" stroke-linecap="round" stroke-linejoin="round"/>
<path d="M152.98,99.45v1.9M159.59,99.45v1.9M166.90,99.45v1.9" stroke="#F8766D" stroke-width="0.7" fill="none"/>
<polyline points="37.60,24.00 38.87,24.00 38.87,25.23 40.15,25.23 40.15,26.45 41.42,26.45 41.42,27.67 42.70,27.67 42.70,28.90 44.27,28.90 44.27,30.30 45.83,30.30 45.83,31.70 47.40,31.70 47.40,33.10 48.97,33.10 48.97,34.20 50.53,34.20 50.53,35.30 52.10,35.30 52.10,36.40 53.95,36.40 53.95,37.55 55.80,37.55 55.80,38.70 57.07,38.70 57.07,40.10 58.33,40.10 58.33,41.50 59.60,41.50 59.60,42.90 61.90,42.90 61.90,44.30 64.20,44.30 64.20,45.70 65.93,45.70 65.93,46.90 67.67,46.90 67.67,48.10 69.40,48.10 69.40,49.30 70.63,49.30 70.63,50.40 71.87,50.40 71.87,51.50 73.10,51.50 73.10,52.60 76.90,52.60 76.90,54.50 78.30,54.50 78.30,55.65 79.70,55.65 79.70,56.80 84.40,57.30 90.00,57.30 90.00,59.20 91.40,59.20 91.40,60.80 92.80,60.80 92.80,62.40 95.10,62.40 95.10,63.60 97.40,63.60 97.40,64.80 99.75,64.80 99.75,66.20 102.10,66.20 102.10,67.60 107.00,67.90 108.17,67.90 108.17,69.20 109.35,69.20 109.35,70.50 110.52,70.50 110.52,71.80 111.70,71.80 111.70,73.10 121.00,73.10 122.40,73.10 122.40,74.50 123.80,74.50 123.80,75.90 134.10,75.90 135.05,75.90 135.05,76.90 136.00,76.90 136.00,77.90 138.50,77.90 138.97,77.90 138.97,79.00 139.43,79.00 139.43,80.10 139.90,80.10 139.90,81.20 140.83,81.20 140.83,82.60 141.77,82.60 141.77,84.00 142.70,84.00 142.70,85.40 142.95,85.40 142.95,86.58 143.20,86.58 143.20,87.75 143.45,87.75 143.45,88.92 143.70,88.92 143.70,90.10 144.60,90.10 144.60,91.65 145.50,91.65 145.50,93.20 156.80,93.20 157.50,98.50 168.90,98.50" fill="none" stroke="#00BFC4" stroke-width="1.15" stroke-linejoin="miter"/>
<path d="M37.60,24.00L42.70,28.90M42.70,28.90L47.40,33.10M47.40,33.10L52.10,36.40M52.10,36.40L55.80,38.70M55.80,38.70L59.60,42.90M59.60,42.90L64.20,45.70M64.20,45.70L69.40,49.30M69.40,49.30L73.10,52.60M73.10,52.60L76.90,54.50M76.90,54.50L79.70,56.80M84.40,57.30L90.00,59.20M90.00,59.20L92.80,62.40M92.80,62.40L97.40,64.80M97.40,64.80L102.10,67.60M107.00,67.90L111.70,73.10M121.00,73.10L123.80,75.90M134.10,75.90L136.00,77.90M138.50,77.90L139.90,81.20M139.90,81.20L142.70,85.40M142.70,85.40L143.70,90.10M143.70,90.10L145.50,93.20" stroke="#00BFC4" stroke-width="1.55" fill="none" stroke-linecap="round" stroke-linejoin="round"/>
<path d="M114.75,72.15v1.9M125.45,74.95v1.9M132.55,74.95v1.9M147.51,92.25v1.9M154.93,92.25v1.9M160.04,97.55v1.9M165.75,97.55v1.9" stroke="#00BFC4" stroke-width="0.7" fill="none"/>
<path d="M31.6,18.8 V135.1 H169.4" fill="none" stroke="#000" stroke-width="1.35"/>
<g transform="translate(0.00,1.00)">
<text x="117.40" y="35.60" font-size="6.80" text-anchor="start" font-weight="normal" fill="#000" stroke="#000" stroke-width="0.12">Race</text>
<line x1="117.9" y1="40.6" x2="124.6" y2="40.6" stroke="#F8766D" stroke-width="1.1"/>
<line x1="117.9" y1="46.9" x2="124.6" y2="46.9" stroke="#00BFC4" stroke-width="1.1"/>
<text x="126.90" y="42.70" font-size="6.85" text-anchor="start" font-weight="normal" fill="#000" stroke="#000" stroke-width="0.12">White</text>
<text x="127.70" y="50.90" font-size="6.85" text-anchor="start" font-weight="normal" fill="#000" stroke="#000" stroke-width="0.12">AA</text>
</g>
<text x="40.40" y="100.00" font-size="6.75" text-anchor="start" font-weight="normal" fill="#000" stroke="#000" stroke-width="0.1">Log-rank</text>
<text x="40.40" y="110.60" font-size="6.80" text-anchor="start" font-weight="normal" fill="#000" stroke="#000" stroke-width="0.1" word-spacing="1.0">p = 0.042</text>
<text x="30.90" y="164.30" font-size="6.80" text-anchor="start" font-weight="normal" fill="#000" >Number at risk</text>
<path d="M30.80,166.60 V189.90 H168.80" fill="none" stroke="#000" stroke-width="1.3"/>
<text transform="translate(28.50,177.40) scale(0.690,1)" font-size="7.00" text-anchor="end" font-weight="normal" fill="#F8766D" stroke="#F8766D" stroke-width="0.2">White</text>
<text transform="translate(28.70,185.90) scale(0.640,1)" font-size="7.00" text-anchor="end" font-weight="normal" fill="#00BFC4" stroke="#00BFC4" stroke-width="0.2">AA</text>
<text transform="translate(11.9,179.60) rotate(-90) scale(0.62,1)" font-size="7.5" stroke="#000" stroke-width="0.3" text-anchor="middle">Race</text>
<text x="37.60" y="176.85" font-size="6.30" text-anchor="middle" font-weight="normal" fill="#111" >405</text>
<text x="37.60" y="185.95" font-size="6.30" text-anchor="middle" font-weight="normal" fill="#111" >353</text>
<text x="37.60" y="197.00" font-size="6.20" text-anchor="middle" font-weight="normal" fill="#1a1a1a" stroke="#1a1a1a" stroke-width="0.05">0</text>
<text x="50.12" y="176.85" font-size="6.30" text-anchor="middle" font-weight="normal" fill="#111" >315</text>
<text x="50.12" y="185.95" font-size="6.30" text-anchor="middle" font-weight="normal" fill="#111" >284</text>
<text x="50.12" y="197.00" font-size="6.20" text-anchor="middle" font-weight="normal" fill="#1a1a1a" stroke="#1a1a1a" stroke-width="0.05">1</text>
<text x="62.64" y="176.85" font-size="6.30" text-anchor="middle" font-weight="normal" fill="#111" >247</text>
<text x="62.64" y="185.95" font-size="6.30" text-anchor="middle" font-weight="normal" fill="#111" >211</text>
<text x="62.64" y="197.00" font-size="6.20" text-anchor="middle" font-weight="normal" fill="#1a1a1a" stroke="#1a1a1a" stroke-width="0.05">2</text>
<text x="75.16" y="176.85" font-size="6.30" text-anchor="middle" font-weight="normal" fill="#111" >166</text>
<text x="75.16" y="185.95" font-size="6.30" text-anchor="middle" font-weight="normal" fill="#111" >158</text>
<text x="75.16" y="197.00" font-size="6.20" text-anchor="middle" font-weight="normal" fill="#1a1a1a" stroke="#1a1a1a" stroke-width="0.05">3</text>
<text x="87.68" y="176.85" font-size="6.30" text-anchor="middle" font-weight="normal" fill="#111" >118</text>
<text x="87.68" y="185.95" font-size="6.30" text-anchor="middle" font-weight="normal" fill="#111" >121</text>
<text x="87.68" y="197.00" font-size="6.20" text-anchor="middle" font-weight="normal" fill="#1a1a1a" stroke="#1a1a1a" stroke-width="0.05">4</text>
<text x="100.20" y="176.85" font-size="6.30" text-anchor="middle" font-weight="normal" fill="#111" >72</text>
<text x="100.20" y="185.95" font-size="6.30" text-anchor="middle" font-weight="normal" fill="#111" >89</text>
<text x="100.20" y="197.00" font-size="6.20" text-anchor="middle" font-weight="normal" fill="#1a1a1a" stroke="#1a1a1a" stroke-width="0.05">5</text>
<text x="112.72" y="176.85" font-size="6.30" text-anchor="middle" font-weight="normal" fill="#111" >47</text>
<text x="112.72" y="185.95" font-size="6.30" text-anchor="middle" font-weight="normal" fill="#111" >55</text>
<text x="112.72" y="197.00" font-size="6.20" text-anchor="middle" font-weight="normal" fill="#1a1a1a" stroke="#1a1a1a" stroke-width="0.05">6</text>
<text x="125.24" y="176.85" font-size="6.30" text-anchor="middle" font-weight="normal" fill="#111" >27</text>
<text x="125.24" y="185.95" font-size="6.30" text-anchor="middle" font-weight="normal" fill="#111" >40</text>
<text x="125.24" y="197.00" font-size="6.20" text-anchor="middle" font-weight="normal" fill="#1a1a1a" stroke="#1a1a1a" stroke-width="0.05">7</text>
<text x="137.76" y="176.85" font-size="6.30" text-anchor="middle" font-weight="normal" fill="#111" >19</text>
<text x="137.76" y="185.95" font-size="6.30" text-anchor="middle" font-weight="normal" fill="#111" >25</text>
<text x="137.76" y="197.00" font-size="6.20" text-anchor="middle" font-weight="normal" fill="#1a1a1a" stroke="#1a1a1a" stroke-width="0.05">8</text>
<text x="150.28" y="176.85" font-size="6.30" text-anchor="middle" font-weight="normal" fill="#111" >10</text>
<text x="150.28" y="185.95" font-size="6.30" text-anchor="middle" font-weight="normal" fill="#111" >12</text>
<text x="150.28" y="197.00" font-size="6.20" text-anchor="middle" font-weight="normal" fill="#1a1a1a" stroke="#1a1a1a" stroke-width="0.05">9</text>
<text x="162.80" y="176.85" font-size="6.30" text-anchor="middle" font-weight="normal" fill="#111" >4</text>
<text x="162.80" y="185.95" font-size="6.30" text-anchor="middle" font-weight="normal" fill="#111" >2</text>
<text x="162.80" y="197.00" font-size="6.20" text-anchor="middle" font-weight="normal" fill="#1a1a1a" stroke="#1a1a1a" stroke-width="0.05">10</text>
<text transform="translate(100.30,204.60) scale(0.680,1)" font-size="7.30" text-anchor="middle" font-weight="normal" fill="#000" stroke="#000" stroke-width="0.2">Time (Years)</text>
</g>
<g transform="translate(0.00,213.00)">
<text x="10.40" y="14.60" font-size="10.80" text-anchor="start" font-weight="bold" fill="#000" stroke="#000" stroke-width="0.35">D</text>
<text x="100.00" y="14.10" font-size="9.15" text-anchor="middle" font-weight="normal" fill="#000" stroke="#000" stroke-width="0.07">≥65, full cohort tested for del17p</text>
<text transform="translate(14.9,76.9) rotate(-90) scale(0.64,1)" font-size="8.8" font-weight="bold" text-anchor="middle">Survival probability</text>
<text x="29.50" y="131.75" font-size="6.00" text-anchor="end" font-weight="normal" fill="#1a1a1a" stroke="#1a1a1a" stroke-width="0.05">0.00</text>
<line x1="30.2" y1="129.60" x2="31.6" y2="129.60" stroke="#222" stroke-width="0.6"/>
<text x="29.50" y="105.30" font-size="6.00" text-anchor="end" font-weight="normal" fill="#1a1a1a" stroke="#1a1a1a" stroke-width="0.05">0.25</text>
<line x1="30.2" y1="103.15" x2="31.6" y2="103.15" stroke="#222" stroke-width="0.6"/>
<text x="29.50" y="78.85" font-size="6.00" text-anchor="end" font-weight="normal" fill="#1a1a1a" stroke="#1a1a1a" stroke-width="0.05">0.50</text>
<line x1="30.2" y1="76.70" x2="31.6" y2="76.70" stroke="#222" stroke-width="0.6"/>
<text x="29.50" y="52.40" font-size="6.00" text-anchor="end" font-weight="normal" fill="#1a1a1a" stroke="#1a1a1a" stroke-width="0.05">0.75</text>
<line x1="30.2" y1="50.25" x2="31.6" y2="50.25" stroke="#222" stroke-width="0.6"/>
<text x="29.50" y="25.95" font-size="6.00" text-anchor="end" font-weight="normal" fill="#1a1a1a" stroke="#1a1a1a" stroke-width="0.05">1.00</text>
<line x1="30.2" y1="23.80" x2="31.6" y2="23.80" stroke="#222" stroke-width="0.6"/>
<text x="37.90" y="142.60" font-size="6.20" text-anchor="middle" font-weight="normal" fill="#1a1a1a" stroke="#1a1a1a" stroke-width="0.05">0</text>
<line x1="37.90" y1="135.5" x2="37.90" y2="136.8" stroke="#222" stroke-width="0.6"/>
<text x="50.27" y="142.60" font-size="6.20" text-anchor="middle" font-weight="normal" fill="#1a1a1a" stroke="#1a1a1a" stroke-width="0.05">1</text>
<line x1="50.27" y1="135.5" x2="50.27" y2="136.8" stroke="#222" stroke-width="0.6"/>
<text x="62.64" y="142.60" font-size="6.20" text-anchor="middle" font-weight="normal" fill="#1a1a1a" stroke="#1a1a1a" stroke-width="0.05">2</text>
<line x1="62.64" y1="135.5" x2="62.64" y2="136.8" stroke="#222" stroke-width="0.6"/>
<text x="75.01" y="142.60" font-size="6.20" text-anchor="middle" font-weight="normal" fill="#1a1a1a" stroke="#1a1a1a" stroke-width="0.05">3</text>
<line x1="75.01" y1="135.5" x2="75.01" y2="136.8" stroke="#222" stroke-width="0.6"/>
<text x="87.38" y="142.60" font-size="6.20" text-anchor="middle" font-weight="normal" fill="#1a1a1a" stroke="#1a1a1a" stroke-width="0.05">4</text>
<line x1="87.38" y1="135.5" x2="87.38" y2="136.8" stroke="#222" stroke-width="0.6"/>
<text x="99.75" y="142.60" font-size="6.20" text-anchor="middle" font-weight="normal" fill="#1a1a1a" stroke="#1a1a1a" stroke-width="0.05">5</text>
<line x1="99.75" y1="135.5" x2="99.75" y2="136.8" stroke="#222" stroke-width="0.6"/>
<text x="112.12" y="142.60" font-size="6.20" text-anchor="middle" font-weight="normal" fill="#1a1a1a" stroke="#1a1a1a" stroke-width="0.05">6</text>
<line x1="112.12" y1="135.5" x2="112.12" y2="136.8" stroke="#222" stroke-width="0.6"/>
<text x="124.49" y="142.60" font-size="6.20" text-anchor="middle" font-weight="normal" fill="#1a1a1a" stroke="#1a1a1a" stroke-width="0.05">7</text>
<line x1="124.49" y1="135.5" x2="124.49" y2="136.8" stroke="#222" stroke-width="0.6"/>
<text x="136.86" y="142.60" font-size="6.20" text-anchor="middle" font-weight="normal" fill="#1a1a1a" stroke="#1a1a1a" stroke-width="0.05">8</text>
<line x1="136.86" y1="135.5" x2="136.86" y2="136.8" stroke="#222" stroke-width="0.6"/>
<text x="149.23" y="142.60" font-size="6.20" text-anchor="middle" font-weight="normal" fill="#1a1a1a" stroke="#1a1a1a" stroke-width="0.05">9</text>
<line x1="149.23" y1="135.5" x2="149.23" y2="136.8" stroke="#222" stroke-width="0.6"/>
<text x="163.50" y="142.60" font-size="6.20" text-anchor="middle" font-weight="normal" fill="#1a1a1a" stroke="#1a1a1a" stroke-width="0.05">10</text>
<line x1="163.50" y1="135.5" x2="163.50" y2="136.8" stroke="#222" stroke-width="0.6"/>
<text transform="translate(99.90,152.40) scale(0.690,1)" font-size="8.80" text-anchor="middle" font-weight="bold" fill="#000" >Time (Years)</text>
<line x1="37.50" y1="77.20" x2="81.70" y2="77.20" stroke="#111" stroke-width="0.95" stroke-dasharray="1.1,2.05"/>
<line x1="81.70" y1="79.20" x2="81.70" y2="129.60" stroke="#111" stroke-width="0.95" stroke-dasharray="1.1,2.05"/>
<polyline points="37.60,24.00 37.60,25.60 37.97,25.60 37.97,26.83 38.33,26.83 38.33,28.07 38.70,28.07 38.70,29.30 39.15,29.30 39.15,30.48 39.60,30.48 39.60,31.65 40.05,31.65 40.05,32.83 40.50,32.83 40.50,34.00 41.43,34.00 41.43,35.40 42.37,35.40 42.37,36.80 43.30,36.80 43.30,38.20 44.57,38.20 44.57,39.47 45.83,39.47 45.83,40.73 47.10,40.73 47.10,42.00 48.33,42.00 48.33,43.23 49.57,43.23 49.57,44.47 50.80,44.47 50.80,45.70 51.73,45.70 51.73,47.10 52.67,47.10 52.67,48.50 53.60,48.50 53.60,49.90 54.87,49.90 54.87,51.00 56.13,51.00 56.13,52.10 57.40,52.10 57.40,53.20 58.70,53.20 58.70,54.60 60.00,54.60 60.00,56.00 61.85,56.00 61.85,57.15 63.70,57.15 63.70,58.30 64.65,58.30 64.65,59.73 65.60,59.73 65.60,61.15 66.55,61.15 66.55,62.58 67.50,62.58 67.50,64.00 68.24,64.00 68.24,65.20 68.98,65.20 68.98,66.40 69.72,66.40 69.72,67.60 70.46,67.60 70.46,68.80 71.20,68.80 71.20,70.00 73.55,70.00 73.55,71.40 75.90,71.40 75.90,72.80 77.13,72.80 77.13,73.90 78.37,73.90 78.37,75.00 79.60,75.00 79.60,76.10 81.17,76.10 81.17,77.33 82.73,77.33 82.73,78.57 84.30,78.57 84.30,79.80 89.90,79.80 89.90,81.70 92.25,81.70 92.25,83.10 94.60,83.10 94.60,84.50 96.00,84.90 97.85,84.90 97.85,86.30 99.70,86.30 99.70,87.70 101.60,87.70 101.60,88.90 103.50,88.90 103.50,90.10 105.35,90.10 105.35,91.50 107.20,91.50 107.20,92.90 109.10,92.90 109.10,94.05 111.00,94.05 111.00,95.20 116.60,95.20 116.60,96.60 118.13,96.60 118.13,97.70 119.67,97.70 119.67,98.80 121.20,98.80 121.20,99.90 125.90,99.90 125.90,101.30 126.53,101.30 126.53,102.40 127.17,102.40 127.17,103.50 127.80,103.50 127.80,104.60 131.50,105.00 133.90,105.00 133.90,106.60 135.70,106.60 135.70,108.00 138.10,108.00 138.10,109.90 161.40,109.90 161.90,119.70 168.00,119.70" fill="none" stroke="#F8766D" stroke-width="1.05" stroke-linejoin="miter"/>
<path d="M37.60,25.60L38.70,29.30M38.70,29.30L40.50,34.00M40.50,34.00L43.30,38.20M43.30,38.20L47.10,42.00M47.10,42.00L50.80,45.70M50.80,45.70L53.60,49.90M53.60,49.90L57.40,53.20M57.40,53.20L60.00,56.00M60.00,56.00L63.70,58.30M63.70,58.30L67.50,64.00M67.50,64.00L71.20,70.00M71.20,70.00L75.90,72.80M75.90,72.80L79.60,76.10M79.60,76.10L84.30,79.80M84.30,79.80L89.90,81.70M89.90,81.70L94.60,84.50M96.00,84.90L99.70,87.70M99.70,87.70L103.50,90.10M103.50,90.10L107.20,92.90M107.20,92.90L111.00,95.20M111.00,95.20L116.60,96.60M116.60,96.60L121.20,99.90M121.20,99.90L125.90,101.30M125.90,101.30L127.80,104.60M131.50,105.00L133.90,106.60M133.90,106.60L135.70,108.00M135.70,108.00L138.10,109.90" stroke="#F8766D" stroke-width="1.45" fill="none" stroke-linecap="round" stroke-linejoin="round"/>
<path d="M141.44,108.95v1.9M146.11,108.95v1.9M152.74,108.95v1.9M159.57,108.95v1.9M164.23,118.75v1.9" stroke="#F8766D" stroke-width="0.7" fill="none"/>
<polyline points="37.60,24.00 38.27,24.00 38.27,25.17 38.93,25.17 38.93,26.33 39.60,26.33 39.60,27.50 40.30,27.50 40.30,28.65 41.00,28.65 41.00,29.80 41.70,29.80 41.70,30.95 42.40,30.95 42.40,32.10 43.33,32.10 43.33,33.53 44.27,33.53 44.27,34.97 45.20,34.97 45.20,36.40 46.13,36.40 46.13,37.63 47.07,37.63 47.07,38.87 48.00,38.87 48.00,40.10 49.40,40.10 49.40,41.25 50.80,41.25 50.80,42.40 51.73,42.40 51.73,43.50 52.67,43.50 52.67,44.60 53.60,44.60 53.60,45.70 54.53,45.70 54.53,47.10 55.47,47.10 55.47,48.50 56.40,48.50 56.40,49.90 57.20,49.90 57.20,51.00 58.00,51.00 58.00,52.10 58.80,52.10 58.80,53.20 59.57,53.20 59.57,54.53 60.33,54.53 60.33,55.87 61.10,55.87 61.10,57.20 62.80,57.20 62.80,58.80 64.03,58.80 64.03,60.20 65.27,60.20 65.27,61.60 66.50,61.60 66.50,63.00 68.37,63.00 68.37,64.10 70.23,64.10 70.23,65.20 72.10,65.20 72.10,66.30 73.67,66.30 73.67,67.70 75.23,67.70 75.23,69.10 76.80,69.10 76.80,70.50 77.75,70.50 77.75,71.67 78.70,71.67 78.70,72.85 79.65,72.85 79.65,74.02 80.60,74.02 80.60,75.20 81.83,75.20 81.83,76.43 83.07,76.43 83.07,77.67 84.30,77.67 84.30,78.90 85.22,78.90 85.22,80.17 86.15,80.17 86.15,81.45 87.08,81.45 87.08,82.72 88.00,82.72 88.00,84.00 90.35,84.00 90.35,85.20 92.70,85.20 92.70,86.40 97.40,86.60 103.50,86.80 105.80,86.80 105.80,87.95 108.10,87.95 108.10,89.10 110.45,89.10 110.45,90.30 112.80,90.30 112.80,91.50 117.50,91.50 117.50,93.40 121.20,93.40 121.20,95.20 122.60,95.20 122.60,96.70 124.00,96.70 124.00,98.20 162.40,98.20 162.40,114.10 168.00,114.10" fill="none" stroke="#00BFC4" stroke-width="1.15" stroke-linejoin="miter"/>
<path d="M37.60,24.00L39.60,27.50M39.60,27.50L42.40,32.10M42.40,32.10L45.20,36.40M45.20,36.40L48.00,40.10M48.00,40.10L50.80,42.40M50.80,42.40L53.60,45.70M53.60,45.70L56.40,49.90M56.40,49.90L58.80,53.20M58.80,53.20L61.10,57.20M61.10,57.20L62.80,58.80M62.80,58.80L66.50,63.00M66.50,63.00L72.10,66.30M72.10,66.30L76.80,70.50M76.80,70.50L80.60,75.20M80.60,75.20L84.30,78.90M84.30,78.90L88.00,84.00M88.00,84.00L92.70,86.40M103.50,86.80L108.10,89.10M108.10,89.10L112.80,91.50M112.80,91.50L117.50,93.40M117.50,93.40L121.20,95.20M121.20,95.20L124.00,98.20" stroke="#00BFC4" stroke-width="1.55" fill="none" stroke-linecap="round" stroke-linejoin="round"/>
<path d="M127.62,97.25v1.9M132.17,97.25v1.9M137.66,97.25v1.9M143.33,97.25v1.9M149.46,97.25v1.9M154.69,97.25v1.9M160.54,97.25v1.9M164.72,113.15v1.9" stroke="#00BFC4" stroke-width="0.7" fill="none"/>
<path d="M31.6,18.8 V135.1 H169.4" fill="none" stroke="#000" stroke-width="1.35"/>
<g transform="translate(0.00,0.60)">
<text x="117.40" y="35.60" font-size="6.80" text-anchor="start" font-weight="normal" fill="#000" stroke="#000" stroke-width="0.12">Race</text>
<line x1="117.9" y1="40.6" x2="124.6" y2="40.6" stroke="#F8766D" stroke-width="1.1"/>
<line x1="117.9" y1="46.9" x2="124.6" y2="46.9" stroke="#00BFC4" stroke-width="1.1"/>
<text x="126.90" y="42.70" font-size="6.85" text-anchor="start" font-weight="normal" fill="#000" stroke="#000" stroke-width="0.12">White</text>
<text x="127.70" y="50.90" font-size="6.85" text-anchor="start" font-weight="normal" fill="#000" stroke="#000" stroke-width="0.12">AA</text>
</g>
<text x="39.80" y="100.00" font-size="6.75" text-anchor="start" font-weight="normal" fill="#000" stroke="#000" stroke-width="0.1">Log-rank</text>
<text x="39.80" y="110.60" font-size="6.80" text-anchor="start" font-weight="normal" fill="#000" stroke="#000" stroke-width="0.1" word-spacing="1.0">p = 0.39</text>
<text x="30.90" y="166.00" font-size="6.80" text-anchor="start" font-weight="normal" fill="#000" >Number at risk</text>
<path d="M32.00,169.90 V191.50 H169.80" fill="none" stroke="#000" stroke-width="1.3"/>
<line x1="30.40" y1="176.20" x2="32.00" y2="176.20" stroke="#000" stroke-width="0.9"/>
<line x1="30.40" y1="185.50" x2="32.00" y2="185.50" stroke="#000" stroke-width="0.9"/>
<text transform="translate(28.50,179.10) scale(0.690,1)" font-size="7.00" text-anchor="end" font-weight="normal" fill="#F8766D" stroke="#F8766D" stroke-width="0.2">White</text>
<text transform="translate(28.70,187.60) scale(0.640,1)" font-size="7.00" text-anchor="end" font-weight="normal" fill="#00BFC4" stroke="#00BFC4" stroke-width="0.2">AA</text>
<text transform="translate(11.9,181.35) rotate(-90) scale(0.62,1)" font-size="7.5" stroke="#000" stroke-width="0.3" text-anchor="middle">Race</text>
<text x="38.40" y="178.45" font-size="6.30" text-anchor="middle" font-weight="normal" fill="#111" >863</text>
<text x="38.40" y="187.75" font-size="6.30" text-anchor="middle" font-weight="normal" fill="#111" >368</text>
<text x="38.40" y="198.40" font-size="6.20" text-anchor="middle" font-weight="normal" fill="#1a1a1a" stroke="#1a1a1a" stroke-width="0.05">0</text>
<text x="50.93" y="178.45" font-size="6.30" text-anchor="middle" font-weight="normal" fill="#111" >562</text>
<text x="50.93" y="187.75" font-size="6.30" text-anchor="middle" font-weight="normal" fill="#111" >254</text>
<text x="50.93" y="198.40" font-size="6.20" text-anchor="middle" font-weight="normal" fill="#1a1a1a" stroke="#1a1a1a" stroke-width="0.05">1</text>
<text x="63.46" y="178.45" font-size="6.30" text-anchor="middle" font-weight="normal" fill="#111" >382</text>
<text x="63.46" y="187.75" font-size="6.30" text-anchor="middle" font-weight="normal" fill="#111" >155</text>
<text x="63.46" y="198.40" font-size="6.20" text-anchor="middle" font-weight="normal" fill="#1a1a1a" stroke="#1a1a1a" stroke-width="0.05">2</text>
<text x="75.99" y="178.45" font-size="6.30" text-anchor="middle" font-weight="normal" fill="#111" >223</text>
<text x="75.99" y="187.75" font-size="6.30" text-anchor="middle" font-weight="normal" fill="#111" >107</text>
<text x="75.99" y="198.40" font-size="6.20" text-anchor="middle" font-weight="normal" fill="#1a1a1a" stroke="#1a1a1a" stroke-width="0.05">3</text>
<text x="88.52" y="178.45" font-size="6.30" text-anchor="middle" font-weight="normal" fill="#111" >134</text>
<text x="88.52" y="187.75" font-size="6.30" text-anchor="middle" font-weight="normal" fill="#111" >62</text>
<text x="88.52" y="198.40" font-size="6.20" text-anchor="middle" font-weight="normal" fill="#1a1a1a" stroke="#1a1a1a" stroke-width="0.05">4</text>
<text x="101.05" y="178.45" font-size="6.30" text-anchor="middle" font-weight="normal" fill="#111" >81</text>
<text x="101.05" y="187.75" font-size="6.30" text-anchor="middle" font-weight="normal" fill="#111" >44</text>
<text x="101.05" y="198.40" font-size="6.20" text-anchor="middle" font-weight="normal" fill="#1a1a1a" stroke="#1a1a1a" stroke-width="0.05">5</text>
<text x="113.58" y="178.45" font-size="6.30" text-anchor="middle" font-weight="normal" fill="#111" >45</text>
<text x="113.58" y="187.75" font-size="6.30" text-anchor="middle" font-weight="normal" fill="#111" >27</text>
<text x="113.58" y="198.40" font-size="6.20" text-anchor="middle" font-weight="normal" fill="#1a1a1a" stroke="#1a1a1a" stroke-width="0.05">6</text>
<text x="126.11" y="178.45" font-size="6.30" text-anchor="middle" font-weight="normal" fill="#111" >24</text>
<text x="126.11" y="187.75" font-size="6.30" text-anchor="middle" font-weight="normal" fill="#111" >15</text>
<text x="126.11" y="198.40" font-size="6.20" text-anchor="middle" font-weight="normal" fill="#1a1a1a" stroke="#1a1a1a" stroke-width="0.05">7</text>
<text x="138.64" y="178.45" font-size="6.30" text-anchor="middle" font-weight="normal" fill="#111" >11</text>
<text x="138.64" y="187.75" font-size="6.30" text-anchor="middle" font-weight="normal" fill="#111" >7</text>
<text x="138.64" y="198.40" font-size="6.20" text-anchor="middle" font-weight="normal" fill="#1a1a1a" stroke="#1a1a1a" stroke-width="0.05">8</text>
<text x="151.17" y="178.45" font-size="6.30" text-anchor="middle" font-weight="normal" fill="#111" >5</text>
<text x="151.17" y="187.75" font-size="6.30" text-anchor="middle" font-weight="normal" fill="#111" >4</text>
<text x="151.17" y="198.40" font-size="6.20" text-anchor="middle" font-weight="normal" fill="#1a1a1a" stroke="#1a1a1a" stroke-width="0.05">9</text>
<text x="163.70" y="178.45" font-size="6.30" text-anchor="middle" font-weight="normal" fill="#111" >1</text>
<text x="163.70" y="187.75" font-size="6.30" text-anchor="middle" font-weight="normal" fill="#111" >2</text>
<text x="163.70" y="198.40" font-size="6.20" text-anchor="middle" font-weight="normal" fill="#1a1a1a" stroke="#1a1a1a" stroke-width="0.05">10</text>
<text transform="translate(101.30,206.20) scale(0.680,1)" font-size="7.30" text-anchor="middle" font-weight="normal" fill="#000" stroke="#000" stroke-width="0.2">Time (Years)</text>
</g>
<g transform="translate(171.50,213.00)">
<text x="11.60" y="14.60" font-size="10.80" text-anchor="start" font-weight="bold" fill="#000" stroke="#000" stroke-width="0.35">E</text>
<text x="100.15" y="14.10" font-size="9.15" text-anchor="middle" font-weight="normal" fill="#000" stroke="#000" stroke-width="0.07">≥65, del17p positive</text>
<text transform="translate(14.9,76.9) rotate(-90) scale(0.64,1)" font-size="8.8" font-weight="bold" text-anchor="middle">Survival probability</text>
<text x="29.50" y="131.75" font-size="6.00" text-anchor="end" font-weight="normal" fill="#1a1a1a" stroke="#1a1a1a" stroke-width="0.05">0.00</text>
<line x1="30.2" y1="129.60" x2="31.6" y2="129.60" stroke="#222" stroke-width="0.6"/>
<text x="29.50" y="105.30" font-size="6.00" text-anchor="end" font-weight="normal" fill="#1a1a1a" stroke="#1a1a1a" stroke-width="0.05">0.25</text>
<line x1="30.2" y1="103.15" x2="31.6" y2="103.15" stroke="#222" stroke-width="0.6"/>
<text x="29.50" y="78.85" font-size="6.00" text-anchor="end" font-weight="normal" fill="#1a1a1a" stroke="#1a1a1a" stroke-width="0.05">0.50</text>
<line x1="30.2" y1="76.70" x2="31.6" y2="76.70" stroke="#222" stroke-width="0.6"/>
<text x="29.50" y="52.40" font-size="6.00" text-anchor="end" font-weight="normal" fill="#1a1a1a" stroke="#1a1a1a" stroke-width="0.05">0.75</text>
<line x1="30.2" y1="50.25" x2="31.6" y2="50.25" stroke="#222" stroke-width="0.6"/>
<text x="29.50" y="25.95" font-size="6.00" text-anchor="end" font-weight="normal" fill="#1a1a1a" stroke="#1a1a1a" stroke-width="0.05">1.00</text>
<line x1="30.2" y1="23.80" x2="31.6" y2="23.80" stroke="#222" stroke-width="0.6"/>
<text x="37.90" y="142.60" font-size="6.20" text-anchor="middle" font-weight="normal" fill="#1a1a1a" stroke="#1a1a1a" stroke-width="0.05">0</text>
<line x1="37.90" y1="135.5" x2="37.90" y2="136.8" stroke="#222" stroke-width="0.6"/>
<text x="50.27" y="142.60" font-size="6.20" text-anchor="middle" font-weight="normal" fill="#1a1a1a" stroke="#1a1a1a" stroke-width="0.05">1</text>
<line x1="50.27" y1="135.5" x2="50.27" y2="136.8" stroke="#222" stroke-width="0.6"/>
<text x="62.64" y="142.60" font-size="6.20" text-anchor="middle" font-weight="normal" fill="#1a1a1a" stroke="#1a1a1a" stroke-width="0.05">2</text>
<line x1="62.64" y1="135.5" x2="62.64" y2="136.8" stroke="#222" stroke-width="0.6"/>
<text x="75.01" y="142.60" font-size="6.20" text-anchor="middle" font-weight="normal" fill="#1a1a1a" stroke="#1a1a1a" stroke-width="0.05">3</text>
<line x1="75.01" y1="135.5" x2="75.01" y2="136.8" stroke="#222" stroke-width="0.6"/>
<text x="87.38" y="142.60" font-size="6.20" text-anchor="middle" font-weight="normal" fill="#1a1a1a" stroke="#1a1a1a" stroke-width="0.05">4</text>
<line x1="87.38" y1="135.5" x2="87.38" y2="136.8" stroke="#222" stroke-width="0.6"/>
<text x="99.75" y="142.60" font-size="6.20" text-anchor="middle" font-weight="normal" fill="#1a1a1a" stroke="#1a1a1a" stroke-width="0.05">5</text>
<line x1="99.75" y1="135.5" x2="99.75" y2="136.8" stroke="#222" stroke-width="0.6"/>
<text x="112.12" y="142.60" font-size="6.20" text-anchor="middle" font-weight="normal" fill="#1a1a1a" stroke="#1a1a1a" stroke-width="0.05">6</text>
<line x1="112.12" y1="135.5" x2="112.12" y2="136.8" stroke="#222" stroke-width="0.6"/>
<text x="124.49" y="142.60" font-size="6.20" text-anchor="middle" font-weight="normal" fill="#1a1a1a" stroke="#1a1a1a" stroke-width="0.05">7</text>
<line x1="124.49" y1="135.5" x2="124.49" y2="136.8" stroke="#222" stroke-width="0.6"/>
<text x="136.86" y="142.60" font-size="6.20" text-anchor="middle" font-weight="normal" fill="#1a1a1a" stroke="#1a1a1a" stroke-width="0.05">8</text>
<line x1="136.86" y1="135.5" x2="136.86" y2="136.8" stroke="#222" stroke-width="0.6"/>
<text x="149.23" y="142.60" font-size="6.20" text-anchor="middle" font-weight="normal" fill="#1a1a1a" stroke="#1a1a1a" stroke-width="0.05">9</text>
<line x1="149.23" y1="135.5" x2="149.23" y2="136.8" stroke="#222" stroke-width="0.6"/>
<text x="163.50" y="142.60" font-size="6.20" text-anchor="middle" font-weight="normal" fill="#1a1a1a" stroke="#1a1a1a" stroke-width="0.05">10</text>
<line x1="163.50" y1="135.5" x2="163.50" y2="136.8" stroke="#222" stroke-width="0.6"/>
<text transform="translate(99.90,152.40) scale(0.690,1)" font-size="8.80" text-anchor="middle" font-weight="bold" fill="#000" >Time (Years)</text>
<line x1="37.50" y1="77.20" x2="65.20" y2="77.20" stroke="#111" stroke-width="0.95" stroke-dasharray="1.1,2.05"/>
<line x1="59.00" y1="79.20" x2="59.00" y2="129.60" stroke="#111" stroke-width="0.95" stroke-dasharray="1.1,2.05"/>
<line x1="65.20" y1="79.20" x2="65.20" y2="129.60" stroke="#111" stroke-width="0.95" stroke-dasharray="1.1,2.05"/>
<polyline points="37.70,23.70 37.92,23.70 37.92,25.10 38.15,25.10 38.15,26.50 38.37,26.50 38.37,27.90 38.60,27.90 38.60,29.30 39.10,35.80 39.45,35.80 39.45,36.98 39.80,36.98 39.80,38.15 40.15,38.15 40.15,39.33 40.50,39.33 40.50,40.50 40.80,40.50 40.80,41.60 41.10,41.60 41.10,42.70 41.40,42.70 41.40,43.80 41.68,43.80 41.68,45.00 41.96,45.00 41.96,46.20 42.24,46.20 42.24,47.40 42.52,47.40 42.52,48.60 42.80,48.60 42.80,49.80 43.43,49.80 43.43,51.07 44.07,51.07 44.07,52.33 44.70,52.33 44.70,53.60 45.15,53.60 45.15,54.65 45.60,54.65 45.60,55.70 47.70,56.00 48.40,56.00 48.40,57.15 49.10,57.15 49.10,58.30 50.05,58.30 50.05,59.70 51.00,59.70 51.00,61.10 54.70,61.10 54.70,62.10 56.10,62.10 56.10,63.25 57.50,63.25 57.50,64.40 57.75,64.40 57.75,65.57 58.00,65.57 58.00,66.75 58.25,66.75 58.25,67.93 58.50,67.93 58.50,69.10 60.80,70.00 61.95,70.00 61.95,71.20 63.10,71.20 63.10,72.40 64.05,72.40 64.05,73.55 65.00,73.55 65.00,74.70 65.32,74.70 65.32,76.10 65.64,76.10 65.64,77.50 65.96,77.50 65.96,78.90 66.28,78.90 66.28,80.30 66.60,80.30 66.60,81.70 66.92,81.70 66.92,83.10 67.23,83.10 67.23,84.50 67.55,84.50 67.55,85.90 67.87,85.90 67.87,87.30 68.18,87.30 68.18,88.70 68.50,88.70 68.50,90.10 69.65,90.10 69.65,91.25 70.80,91.25 70.80,92.40 75.00,92.90 75.45,92.90 75.45,94.05 75.90,94.05 75.90,95.20 83.40,95.20 83.70,95.20 83.70,96.60 84.00,96.60 84.00,98.00 84.30,98.00 84.30,99.40 87.60,99.40 87.60,100.40 88.50,103.60 119.30,103.60 119.30,128.80" fill="none" stroke="#F8766D" stroke-width="1.05" stroke-linejoin="miter"/>
<path d="M78.60,94.25v1.9M91.77,102.65v1.9M95.75,102.65v1.9M101.75,102.65v1.9M106.04,102.65v1.9M112.21,102.65v1.9M117.03,102.65v1.9" stroke="#F8766D" stroke-width="0.7" fill="none"/>
<polyline points="37.70,23.70 38.20,27.40 40.00,27.90 40.00,36.30 45.20,36.30 45.60,41.40 46.60,41.90 47.10,51.20 49.60,51.60 49.82,51.60 49.82,53.05 50.05,53.05 50.05,54.50 50.27,54.50 50.27,55.95 50.50,55.95 50.50,57.40 50.97,57.40 50.97,58.80 51.43,58.80 51.43,60.20 51.90,60.20 51.90,61.60 52.40,67.20 54.70,67.70 55.20,72.40 58.70,72.40 58.70,73.30 59.10,90.10 65.20,90.10 65.20,103.20 73.60,103.20 73.60,115.80 105.00,115.80" fill="none" stroke="#00BFC4" stroke-width="1.15" stroke-linejoin="miter"/>
<path d="M43.24,35.35v1.9M62.85,89.15v1.9M70.64,102.25v1.9M77.14,114.85v1.9M80.47,114.85v1.9M86.98,114.85v1.9M91.20,114.85v1.9M96.46,114.85v1.9M101.57,114.85v1.9" stroke="#00BFC4" stroke-width="0.7" fill="none"/>
<path d="M31.6,18.8 V135.1 H169.4" fill="none" stroke="#000" stroke-width="1.35"/>
<g transform="translate(0.80,1.00)">
<text x="117.40" y="35.60" font-size="6.80" text-anchor="start" font-weight="normal" fill="#000" stroke="#000" stroke-width="0.12">Race</text>
<line x1="117.9" y1="40.6" x2="124.6" y2="40.6" stroke="#F8766D" stroke-width="1.1"/>
<line x1="117.9" y1="46.9" x2="124.6" y2="46.9" stroke="#00BFC4" stroke-width="1.1"/>
<text x="126.90" y="42.70" font-size="6.85" text-anchor="start" font-weight="normal" fill="#000" stroke="#000" stroke-width="0.12">White</text>
<text x="127.70" y="50.90" font-size="6.85" text-anchor="start" font-weight="normal" fill="#000" stroke="#000" stroke-width="0.12">AA</text>
</g>
<text x="34.75" y="100.00" font-size="6.75" text-anchor="start" font-weight="normal" fill="#000" stroke="#000" stroke-width="0.1">Log-rank</text>
<text x="34.75" y="110.60" font-size="6.80" text-anchor="start" font-weight="normal" fill="#000" stroke="#000" stroke-width="0.1" word-spacing="1.0">p = 0.52</text>
<text x="30.90" y="166.00" font-size="6.80" text-anchor="start" font-weight="normal" fill="#000" >Number at risk</text>
<path d="M32.00,169.90 V191.50 H169.80" fill="none" stroke="#000" stroke-width="1.3"/>
<line x1="30.40" y1="176.20" x2="32.00" y2="176.20" stroke="#000" stroke-width="0.9"/>
<line x1="30.40" y1="185.50" x2="32.00" y2="185.50" stroke="#000" stroke-width="0.9"/>
<text transform="translate(28.50,179.10) scale(0.690,1)" font-size="7.00" text-anchor="end" font-weight="normal" fill="#F8766D" stroke="#F8766D" stroke-width="0.2">White</text>
<text transform="translate(28.70,187.60) scale(0.640,1)" font-size="7.00" text-anchor="end" font-weight="normal" fill="#00BFC4" stroke="#00BFC4" stroke-width="0.2">AA</text>
<text transform="translate(11.9,181.35) rotate(-90) scale(0.62,1)" font-size="7.5" stroke="#000" stroke-width="0.3" text-anchor="middle">Race</text>
<text x="38.40" y="178.45" font-size="6.30" text-anchor="middle" font-weight="normal" fill="#111" >94</text>
<text x="38.40" y="187.75" font-size="6.30" text-anchor="middle" font-weight="normal" fill="#111" >25</text>
<text x="38.40" y="198.40" font-size="6.20" text-anchor="middle" font-weight="normal" fill="#1a1a1a" stroke="#1a1a1a" stroke-width="0.05">0</text>
<text x="50.93" y="178.45" font-size="6.30" text-anchor="middle" font-weight="normal" fill="#111" >49</text>
<text x="50.93" y="187.75" font-size="6.30" text-anchor="middle" font-weight="normal" fill="#111" >14</text>
<text x="50.93" y="198.40" font-size="6.20" text-anchor="middle" font-weight="normal" fill="#1a1a1a" stroke="#1a1a1a" stroke-width="0.05">1</text>
<text x="63.46" y="178.45" font-size="6.30" text-anchor="middle" font-weight="normal" fill="#111" >31</text>
<text x="63.46" y="187.75" font-size="6.30" text-anchor="middle" font-weight="normal" fill="#111" >4</text>
<text x="63.46" y="198.40" font-size="6.20" text-anchor="middle" font-weight="normal" fill="#1a1a1a" stroke="#1a1a1a" stroke-width="0.05">2</text>
<text x="75.99" y="178.45" font-size="6.30" text-anchor="middle" font-weight="normal" fill="#111" >15</text>
<text x="75.99" y="187.75" font-size="6.30" text-anchor="middle" font-weight="normal" fill="#111" >1</text>
<text x="75.99" y="198.40" font-size="6.20" text-anchor="middle" font-weight="normal" fill="#1a1a1a" stroke="#1a1a1a" stroke-width="0.05">3</text>
<text x="88.52" y="178.45" font-size="6.30" text-anchor="middle" font-weight="normal" fill="#111" >7</text>
<text x="88.52" y="187.75" font-size="6.30" text-anchor="middle" font-weight="normal" fill="#111" >1</text>
<text x="88.52" y="198.40" font-size="6.20" text-anchor="middle" font-weight="normal" fill="#1a1a1a" stroke="#1a1a1a" stroke-width="0.05">4</text>
<text x="101.05" y="178.45" font-size="6.30" text-anchor="middle" font-weight="normal" fill="#111" >3</text>
<text x="101.05" y="187.75" font-size="6.30" text-anchor="middle" font-weight="normal" fill="#111" >1</text>
<text x="101.05" y="198.40" font-size="6.20" text-anchor="middle" font-weight="normal" fill="#1a1a1a" stroke="#1a1a1a" stroke-width="0.05">5</text>
<text x="113.58" y="178.45" font-size="6.30" text-anchor="middle" font-weight="normal" fill="#111" >1</text>
<text x="113.58" y="187.75" font-size="6.30" text-anchor="middle" font-weight="normal" fill="#111" >0</text>
<text x="113.58" y="198.40" font-size="6.20" text-anchor="middle" font-weight="normal" fill="#1a1a1a" stroke="#1a1a1a" stroke-width="0.05">6</text>
<text x="126.11" y="178.45" font-size="6.30" text-anchor="middle" font-weight="normal" fill="#111" >0</text>
<text x="126.11" y="187.75" font-size="6.30" text-anchor="middle" font-weight="normal" fill="#111" >0</text>
<text x="126.11" y="198.40" font-size="6.20" text-anchor="middle" font-weight="normal" fill="#1a1a1a" stroke="#1a1a1a" stroke-width="0.05">7</text>
<text x="138.64" y="178.45" font-size="6.30" text-anchor="middle" font-weight="normal" fill="#111" >0</text>
<text x="138.64" y="187.75" font-size="6.30" text-anchor="middle" font-weight="normal" fill="#111" >0</text>
<text x="138.64" y="198.40" font-size="6.20" text-anchor="middle" font-weight="normal" fill="#1a1a1a" stroke="#1a1a1a" stroke-width="0.05">8</text>
<text x="151.17" y="178.45" font-size="6.30" text-anchor="middle" font-weight="normal" fill="#111" >0</text>
<text x="151.17" y="187.75" font-size="6.30" text-anchor="middle" font-weight="normal" fill="#111" >0</text>
<text x="151.17" y="198.40" font-size="6.20" text-anchor="middle" font-weight="normal" fill="#1a1a1a" stroke="#1a1a1a" stroke-width="0.05">9</text>
<text x="163.70" y="178.45" font-size="6.30" text-anchor="middle" font-weight="normal" fill="#111" >0</text>
<text x="163.70" y="187.75" font-size="6.30" text-anchor="middle" font-weight="normal" fill="#111" >0</text>
<text x="163.70" y="198.40" font-size="6.20" text-anchor="middle" font-weight="normal" fill="#1a1a1a" stroke="#1a1a1a" stroke-width="0.05">10</text>
<text transform="translate(101.30,206.20) scale(0.680,1)" font-size="7.30" text-anchor="middle" font-weight="normal" fill="#000" stroke="#000" stroke-width="0.2">Time (Years)</text>
</g>
<g transform="translate(343.60,213.00)">
<text x="11.10" y="14.60" font-size="10.80" text-anchor="start" font-weight="bold" fill="#000" stroke="#000" stroke-width="0.35">F</text>
<text x="99.85" y="14.10" font-size="9.15" text-anchor="middle" font-weight="normal" fill="#000" stroke="#000" stroke-width="0.07">≥65, del17p negative</text>
<text transform="translate(14.9,76.9) rotate(-90) scale(0.64,1)" font-size="8.8" font-weight="bold" text-anchor="middle">Survival probability</text>
<text x="29.50" y="131.75" font-size="6.00" text-anchor="end" font-weight="normal" fill="#1a1a1a" stroke="#1a1a1a" stroke-width="0.05">0.00</text>
<line x1="30.2" y1="129.60" x2="31.6" y2="129.60" stroke="#222" stroke-width="0.6"/>
<text x="29.50" y="105.30" font-size="6.00" text-anchor="end" font-weight="normal" fill="#1a1a1a" stroke="#1a1a1a" stroke-width="0.05">0.25</text>
<line x1="30.2" y1="103.15" x2="31.6" y2="103.15" stroke="#222" stroke-width="0.6"/>
<text x="29.50" y="78.85" font-size="6.00" text-anchor="end" font-weight="normal" fill="#1a1a1a" stroke="#1a1a1a" stroke-width="0.05">0.50</text>
<line x1="30.2" y1="76.70" x2="31.6" y2="76.70" stroke="#222" stroke-width="0.6"/>
<text x="29.50" y="52.40" font-size="6.00" text-anchor="end" font-weight="normal" fill="#1a1a1a" stroke="#1a1a1a" stroke-width="0.05">0.75</text>
<line x1="30.2" y1="50.25" x2="31.6" y2="50.25" stroke="#222" stroke-width="0.6"/>
<text x="29.50" y="25.95" font-size="6.00" text-anchor="end" font-weight="normal" fill="#1a1a1a" stroke="#1a1a1a" stroke-width="0.05">1.00</text>
<line x1="30.2" y1="23.80" x2="31.6" y2="23.80" stroke="#222" stroke-width="0.6"/>
<text x="37.90" y="142.60" font-size="6.20" text-anchor="middle" font-weight="normal" fill="#1a1a1a" stroke="#1a1a1a" stroke-width="0.05">0</text>
<line x1="37.90" y1="135.5" x2="37.90" y2="136.8" stroke="#222" stroke-width="0.6"/>
<text x="50.27" y="142.60" font-size="6.20" text-anchor="middle" font-weight="normal" fill="#1a1a1a" stroke="#1a1a1a" stroke-width="0.05">1</text>
<line x1="50.27" y1="135.5" x2="50.27" y2="136.8" stroke="#222" stroke-width="0.6"/>
<text x="62.64" y="142.60" font-size="6.20" text-anchor="middle" font-weight="normal" fill="#1a1a1a" stroke="#1a1a1a" stroke-width="0.05">2</text>
<line x1="62.64" y1="135.5" x2="62.64" y2="136.8" stroke="#222" stroke-width="0.6"/>
<text x="75.01" y="142.60" font-size="6.20" text-anchor="middle" font-weight="normal" fill="#1a1a1a" stroke="#1a1a1a" stroke-width="0.05">3</text>
<line x1="75.01" y1="135.5" x2="75.01" y2="136.8" stroke="#222" stroke-width="0.6"/>
<text x="87.38" y="142.60" font-size="6.20" text-anchor="middle" font-weight="normal" fill="#1a1a1a" stroke="#1a1a1a" stroke-width="0.05">4</text>
<line x1="87.38" y1="135.5" x2="87.38" y2="136.8" stroke="#222" stroke-width="0.6"/>
<text x="99.75" y="142.60" font-size="6.20" text-anchor="middle" font-weight="normal" fill="#1a1a1a" stroke="#1a1a1a" stroke-width="0.05">5</text>
<line x1="99.75" y1="135.5" x2="99.75" y2="136.8" stroke="#222" stroke-width="0.6"/>
<text x="112.12" y="142.60" font-size="6.20" text-anchor="middle" font-weight="normal" fill="#1a1a1a" stroke="#1a1a1a" stroke-width="0.05">6</text>
<line x1="112.12" y1="135.5" x2="112.12" y2="136.8" stroke="#222" stroke-width="0.6"/>
<text x="124.49" y="142.60" font-size="6.20" text-anchor="middle" font-weight="normal" fill="#1a1a1a" stroke="#1a1a1a" stroke-width="0.05">7</text>
<line x1="124.49" y1="135.5" x2="124.49" y2="136.8" stroke="#222" stroke-width="0.6"/>
<text x="136.86" y="142.60" font-size="6.20" text-anchor="middle" font-weight="normal" fill="#1a1a1a" stroke="#1a1a1a" stroke-width="0.05">8</text>
<line x1="136.86" y1="135.5" x2="136.86" y2="136.8" stroke="#222" stroke-width="0.6"/>
<text x="149.23" y="142.60" font-size="6.20" text-anchor="middle" font-weight="normal" fill="#1a1a1a" stroke="#1a1a1a" stroke-width="0.05">9</text>
<line x1="149.23" y1="135.5" x2="149.23" y2="136.8" stroke="#222" stroke-width="0.6"/>
<text x="163.50" y="142.60" font-size="6.20" text-anchor="middle" font-weight="normal" fill="#1a1a1a" stroke="#1a1a1a" stroke-width="0.05">10</text>
<line x1="163.50" y1="135.5" x2="163.50" y2="136.8" stroke="#222" stroke-width="0.6"/>
<text transform="translate(99.90,152.40) scale(0.690,1)" font-size="8.80" text-anchor="middle" font-weight="bold" fill="#000" >Time (Years)</text>
<line x1="37.50" y1="77.20" x2="83.60" y2="77.20" stroke="#111" stroke-width="0.95" stroke-dasharray="1.1,2.05"/>
<line x1="83.60" y1="79.20" x2="83.60" y2="129.60" stroke="#111" stroke-width="0.95" stroke-dasharray="1.1,2.05"/>
<polyline points="37.70,23.90 37.70,25.10 38.17,25.10 38.17,26.37 38.63,26.37 38.63,27.63 39.10,27.63 39.10,28.90 39.70,28.90 39.70,30.30 40.30,30.30 40.30,31.70 40.90,31.70 40.90,33.10 42.17,33.10 42.17,34.33 43.43,34.33 43.43,35.57 44.70,35.57 44.70,36.80 45.93,36.80 45.93,38.07 47.17,38.07 47.17,39.33 48.40,39.33 48.40,40.60 49.33,40.60 49.33,41.83 50.27,41.83 50.27,43.07 51.20,43.07 51.20,44.30 52.13,44.30 52.13,45.53 53.07,45.53 53.07,46.77 54.00,46.77 54.00,48.00 55.27,48.00 55.27,49.27 56.53,49.27 56.53,50.53 57.80,50.53 57.80,51.80 61.50,51.80 61.50,53.20 62.40,53.20 62.40,54.37 63.30,54.37 63.30,55.55 64.20,55.55 64.20,56.72 65.10,56.72 65.10,57.90 66.03,57.90 66.03,59.30 66.97,59.30 66.97,60.70 67.90,60.70 67.90,62.10 68.83,62.10 68.83,63.50 69.77,63.50 69.77,64.90 70.70,64.90 70.70,66.30 73.05,66.30 73.05,67.70 75.40,67.70 75.40,69.10 76.97,69.10 76.97,70.50 78.53,70.50 78.53,71.90 80.10,71.90 80.10,73.30 81.33,73.30 81.33,74.40 82.57,74.40 82.57,75.50 83.80,75.50 83.80,76.60 89.40,76.60 89.40,78.00 90.97,78.00 90.97,79.23 92.53,79.23 92.53,80.47 94.10,80.47 94.10,81.70 96.90,82.20 98.50,82.20 98.50,83.35 100.10,83.35 100.10,84.50 102.00,84.50 102.00,86.10 103.90,86.10 103.90,87.70 105.75,87.70 105.75,88.90 107.60,88.90 107.60,90.10 109.00,90.10 109.00,91.50 110.40,91.50 110.40,92.90 115.10,92.90 115.10,93.80 119.80,93.80 119.80,95.70 122.10,95.70 122.10,96.85 124.40,96.85 124.40,98.00 126.30,98.00 126.30,99.40 127.25,99.40 127.25,100.80 128.20,100.80 128.20,102.20 131.90,101.80 133.55,101.80 133.55,103.30 135.20,103.30 135.20,104.80 137.10,105.70 138.00,105.70 138.00,106.70 138.90,106.70 138.90,107.70 161.80,107.70 162.30,118.30 168.40,118.30" fill="none" stroke="#F8766D" stroke-width="1.05" stroke-linejoin="miter"/>
<path d="M37.70,25.10L39.10,28.90M39.10,28.90L40.90,33.10M40.90,33.10L44.70,36.80M44.70,36.80L48.40,40.60M48.40,40.60L51.20,44.30M51.20,44.30L54.00,48.00M54.00,48.00L57.80,51.80M57.80,51.80L61.50,53.20M61.50,53.20L65.10,57.90M65.10,57.90L70.70,66.30M70.70,66.30L75.40,69.10M75.40,69.10L80.10,73.30M80.10,73.30L83.80,76.60M83.80,76.60L89.40,78.00M89.40,78.00L94.10,81.70M96.90,82.20L100.10,84.50M100.10,84.50L103.90,87.70M103.90,87.70L107.60,90.10M107.60,90.10L110.40,92.90M110.40,92.90L115.10,93.80M115.10,93.80L119.80,95.70M119.80,95.70L124.40,98.00M124.40,98.00L126.30,99.40M126.30,99.40L128.20,102.20M131.90,101.80L135.20,104.80M137.10,105.70L138.90,107.70" stroke="#F8766D" stroke-width="1.45" fill="none" stroke-linecap="round" stroke-linejoin="round"/>
<path d="M142.19,106.75v1.9M146.77,106.75v1.9M153.29,106.75v1.9M160.00,106.75v1.9M164.63,117.35v1.9" stroke="#F8766D" stroke-width="0.7" fill="none"/>
<polyline points="37.70,23.90 38.47,23.90 38.47,25.10 39.23,25.10 39.23,26.30 40.00,26.30 40.00,27.50 40.93,27.50 40.93,28.73 41.87,28.73 41.87,29.97 42.80,29.97 42.80,31.20 43.57,31.20 43.57,32.60 44.33,32.60 44.33,34.00 45.10,34.00 45.10,35.40 46.20,35.40 46.20,36.80 47.30,36.80 47.30,38.20 48.40,38.20 48.40,39.60 51.20,39.60 51.20,41.00 52.13,41.00 52.13,42.10 53.07,42.10 53.07,43.20 54.00,43.20 54.00,44.30 54.95,44.30 54.95,45.48 55.90,45.48 55.90,46.65 56.85,46.65 56.85,47.83 57.80,47.83 57.80,49.00 58.25,49.00 58.25,50.15 58.70,50.15 58.70,51.30 59.15,51.30 59.15,52.45 59.60,52.45 59.60,53.60 61.40,53.60 61.40,55.10 62.57,55.10 62.57,56.25 63.75,56.25 63.75,57.40 64.92,57.40 64.92,58.55 66.10,58.55 66.10,59.70 67.63,59.70 67.63,60.80 69.17,60.80 69.17,61.90 70.70,61.90 70.70,63.00 73.05,63.00 73.05,64.40 75.40,64.40 75.40,65.80 76.67,65.80 76.67,67.07 77.93,67.07 77.93,68.33 79.20,68.33 79.20,69.60 80.12,69.60 80.12,70.90 81.04,70.90 81.04,72.20 81.96,72.20 81.96,73.50 82.88,73.50 82.88,74.80 83.80,74.80 83.80,76.10 84.75,76.10 84.75,77.28 85.70,77.28 85.70,78.45 86.65,78.45 86.65,79.63 87.60,79.63 87.60,80.80 89.90,80.80 89.90,82.40 92.20,82.40 92.20,84.00 96.90,84.30 103.90,84.90 108.50,84.90 108.50,86.30 110.40,86.30 110.40,87.70 112.30,87.70 112.30,89.10 116.00,89.10 117.90,89.10 117.90,90.55 119.80,90.55 119.80,92.00 122.60,92.00 122.60,93.40 123.50,93.40 123.50,94.80 124.40,94.80 124.40,96.20 162.80,96.30 162.80,112.40 168.40,112.40" fill="none" stroke="#00BFC4" stroke-width="1.15" stroke-linejoin="miter"/>
<path d="M37.70,23.90L40.00,27.50M40.00,27.50L42.80,31.20M42.80,31.20L45.10,35.40M45.10,35.40L48.40,39.60M48.40,39.60L51.20,41.00M51.20,41.00L54.00,44.30M54.00,44.30L57.80,49.00M57.80,49.00L59.60,53.60M59.60,53.60L61.40,55.10M61.40,55.10L66.10,59.70M66.10,59.70L70.70,63.00M70.70,63.00L75.40,65.80M75.40,65.80L79.20,69.60M79.20,69.60L83.80,76.10M83.80,76.10L87.60,80.80M87.60,80.80L92.20,84.00M103.90,84.90L108.50,86.30M108.50,86.30L112.30,89.10M116.00,89.10L119.80,92.00M119.80,92.00L122.60,93.40M122.60,93.40L124.40,96.20" stroke="#00BFC4" stroke-width="1.55" fill="none" stroke-linecap="round" stroke-linejoin="round"/>
<path d="M114.80,88.15v1.9M164.88,111.45v1.9" stroke="#00BFC4" stroke-width="0.7" fill="none"/>
<path d="M31.6,18.8 V135.1 H169.4" fill="none" stroke="#000" stroke-width="1.35"/>
<g transform="translate(-0.20,1.00)">
<text x="117.40" y="35.60" font-size="6.80" text-anchor="start" font-weight="normal" fill="#000" stroke="#000" stroke-width="0.12">Race</text>
<line x1="117.9" y1="40.6" x2="124.6" y2="40.6" stroke="#F8766D" stroke-width="1.1"/>
<line x1="117.9" y1="46.9" x2="124.6" y2="46.9" stroke="#00BFC4" stroke-width="1.1"/>
<text x="126.90" y="42.70" font-size="6.85" text-anchor="start" font-weight="normal" fill="#000" stroke="#000" stroke-width="0.12">White</text>
<text x="127.70" y="50.90" font-size="6.85" text-anchor="start" font-weight="normal" fill="#000" stroke="#000" stroke-width="0.12">AA</text>
</g>
<text x="40.80" y="100.00" font-size="6.75" text-anchor="start" font-weight="normal" fill="#000" stroke="#000" stroke-width="0.1">Log-rank</text>
<text x="40.80" y="110.60" font-size="6.80" text-anchor="start" font-weight="normal" fill="#000" stroke="#000" stroke-width="0.1" word-spacing="1.0">p = 0.49</text>
<text x="30.90" y="166.00" font-size="6.80" text-anchor="start" font-weight="normal" fill="#000" >Number at risk</text>
<path d="M32.00,169.90 V191.50 H169.80" fill="none" stroke="#000" stroke-width="1.3"/>
<line x1="30.40" y1="176.20" x2="32.00" y2="176.20" stroke="#000" stroke-width="0.9"/>
<line x1="30.40" y1="185.50" x2="32.00" y2="185.50" stroke="#000" stroke-width="0.9"/>
<text transform="translate(28.50,179.10) scale(0.690,1)" font-size="7.00" text-anchor="end" font-weight="normal" fill="#F8766D" stroke="#F8766D" stroke-width="0.2">White</text>
<text transform="translate(28.70,187.60) scale(0.640,1)" font-size="7.00" text-anchor="end" font-weight="normal" fill="#00BFC4" stroke="#00BFC4" stroke-width="0.2">AA</text>
<text transform="translate(11.9,181.35) rotate(-90) scale(0.62,1)" font-size="7.5" stroke="#000" stroke-width="0.3" text-anchor="middle">Race</text>
<text x="38.40" y="178.45" font-size="6.30" text-anchor="middle" font-weight="normal" fill="#111" >769</text>
<text x="38.40" y="187.75" font-size="6.30" text-anchor="middle" font-weight="normal" fill="#111" >343</text>
<text x="38.40" y="198.40" font-size="6.20" text-anchor="middle" font-weight="normal" fill="#1a1a1a" stroke="#1a1a1a" stroke-width="0.05">0</text>
<text x="50.93" y="178.45" font-size="6.30" text-anchor="middle" font-weight="normal" fill="#111" >513</text>
<text x="50.93" y="187.75" font-size="6.30" text-anchor="middle" font-weight="normal" fill="#111" >240</text>
<text x="50.93" y="198.40" font-size="6.20" text-anchor="middle" font-weight="normal" fill="#1a1a1a" stroke="#1a1a1a" stroke-width="0.05">1</text>
<text x="63.46" y="178.45" font-size="6.30" text-anchor="middle" font-weight="normal" fill="#111" >351</text>
<text x="63.46" y="187.75" font-size="6.30" text-anchor="middle" font-weight="normal" fill="#111" >151</text>
<text x="63.46" y="198.40" font-size="6.20" text-anchor="middle" font-weight="normal" fill="#1a1a1a" stroke="#1a1a1a" stroke-width="0.05">2</text>
<text x="75.99" y="178.45" font-size="6.30" text-anchor="middle" font-weight="normal" fill="#111" >208</text>
<text x="75.99" y="187.75" font-size="6.30" text-anchor="middle" font-weight="normal" fill="#111" >106</text>
<text x="75.99" y="198.40" font-size="6.20" text-anchor="middle" font-weight="normal" fill="#1a1a1a" stroke="#1a1a1a" stroke-width="0.05">3</text>
<text x="88.52" y="178.45" font-size="6.30" text-anchor="middle" font-weight="normal" fill="#111" >127</text>
<text x="88.52" y="187.75" font-size="6.30" text-anchor="middle" font-weight="normal" fill="#111" >61</text>
<text x="88.52" y="198.40" font-size="6.20" text-anchor="middle" font-weight="normal" fill="#1a1a1a" stroke="#1a1a1a" stroke-width="0.05">4</text>
<text x="101.05" y="178.45" font-size="6.30" text-anchor="middle" font-weight="normal" fill="#111" >78</text>
<text x="101.05" y="187.75" font-size="6.30" text-anchor="middle" font-weight="normal" fill="#111" >43</text>
<text x="101.05" y="198.40" font-size="6.20" text-anchor="middle" font-weight="normal" fill="#1a1a1a" stroke="#1a1a1a" stroke-width="0.05">5</text>
<text x="113.58" y="178.45" font-size="6.30" text-anchor="middle" font-weight="normal" fill="#111" >44</text>
<text x="113.58" y="187.75" font-size="6.30" text-anchor="middle" font-weight="normal" fill="#111" >27</text>
<text x="113.58" y="198.40" font-size="6.20" text-anchor="middle" font-weight="normal" fill="#1a1a1a" stroke="#1a1a1a" stroke-width="0.05">6</text>
<text x="126.11" y="178.45" font-size="6.30" text-anchor="middle" font-weight="normal" fill="#111" >24</text>
<text x="126.11" y="187.75" font-size="6.30" text-anchor="middle" font-weight="normal" fill="#111" >15</text>
<text x="126.11" y="198.40" font-size="6.20" text-anchor="middle" font-weight="normal" fill="#1a1a1a" stroke="#1a1a1a" stroke-width="0.05">7</text>
<text x="138.64" y="178.45" font-size="6.30" text-anchor="middle" font-weight="normal" fill="#111" >11</text>
<text x="138.64" y="187.75" font-size="6.30" text-anchor="middle" font-weight="normal" fill="#111" >7</text>
<text x="138.64" y="198.40" font-size="6.20" text-anchor="middle" font-weight="normal" fill="#1a1a1a" stroke="#1a1a1a" stroke-width="0.05">8</text>
<text x="151.17" y="178.45" font-size="6.30" text-anchor="middle" font-weight="normal" fill="#111" >5</text>
<text x="151.17" y="187.75" font-size="6.30" text-anchor="middle" font-weight="normal" fill="#111" >4</text>
<text x="151.17" y="198.40" font-size="6.20" text-anchor="middle" font-weight="normal" fill="#1a1a1a" stroke="#1a1a1a" stroke-width="0.05">9</text>
<text x="163.70" y="178.45" font-size="6.30" text-anchor="middle" font-weight="normal" fill="#111" >1</text>
<text x="163.70" y="187.75" font-size="6.30" text-anchor="middle" font-weight="normal" fill="#111" >2</text>
<text x="163.70" y="198.40" font-size="6.20" text-anchor="middle" font-weight="normal" fill="#1a1a1a" stroke="#1a1a1a" stroke-width="0.05">10</text>
<text transform="translate(101.30,206.20) scale(0.680,1)" font-size="7.30" text-anchor="middle" font-weight="normal" fill="#000" stroke="#000" stroke-width="0.2">Time (Years)</text>
</g>
<rect x="0.55" y="0.55" width="518.9" height="426.9" fill="none" stroke="#000" stroke-width="1.1"/>
</svg>
</body></html>
